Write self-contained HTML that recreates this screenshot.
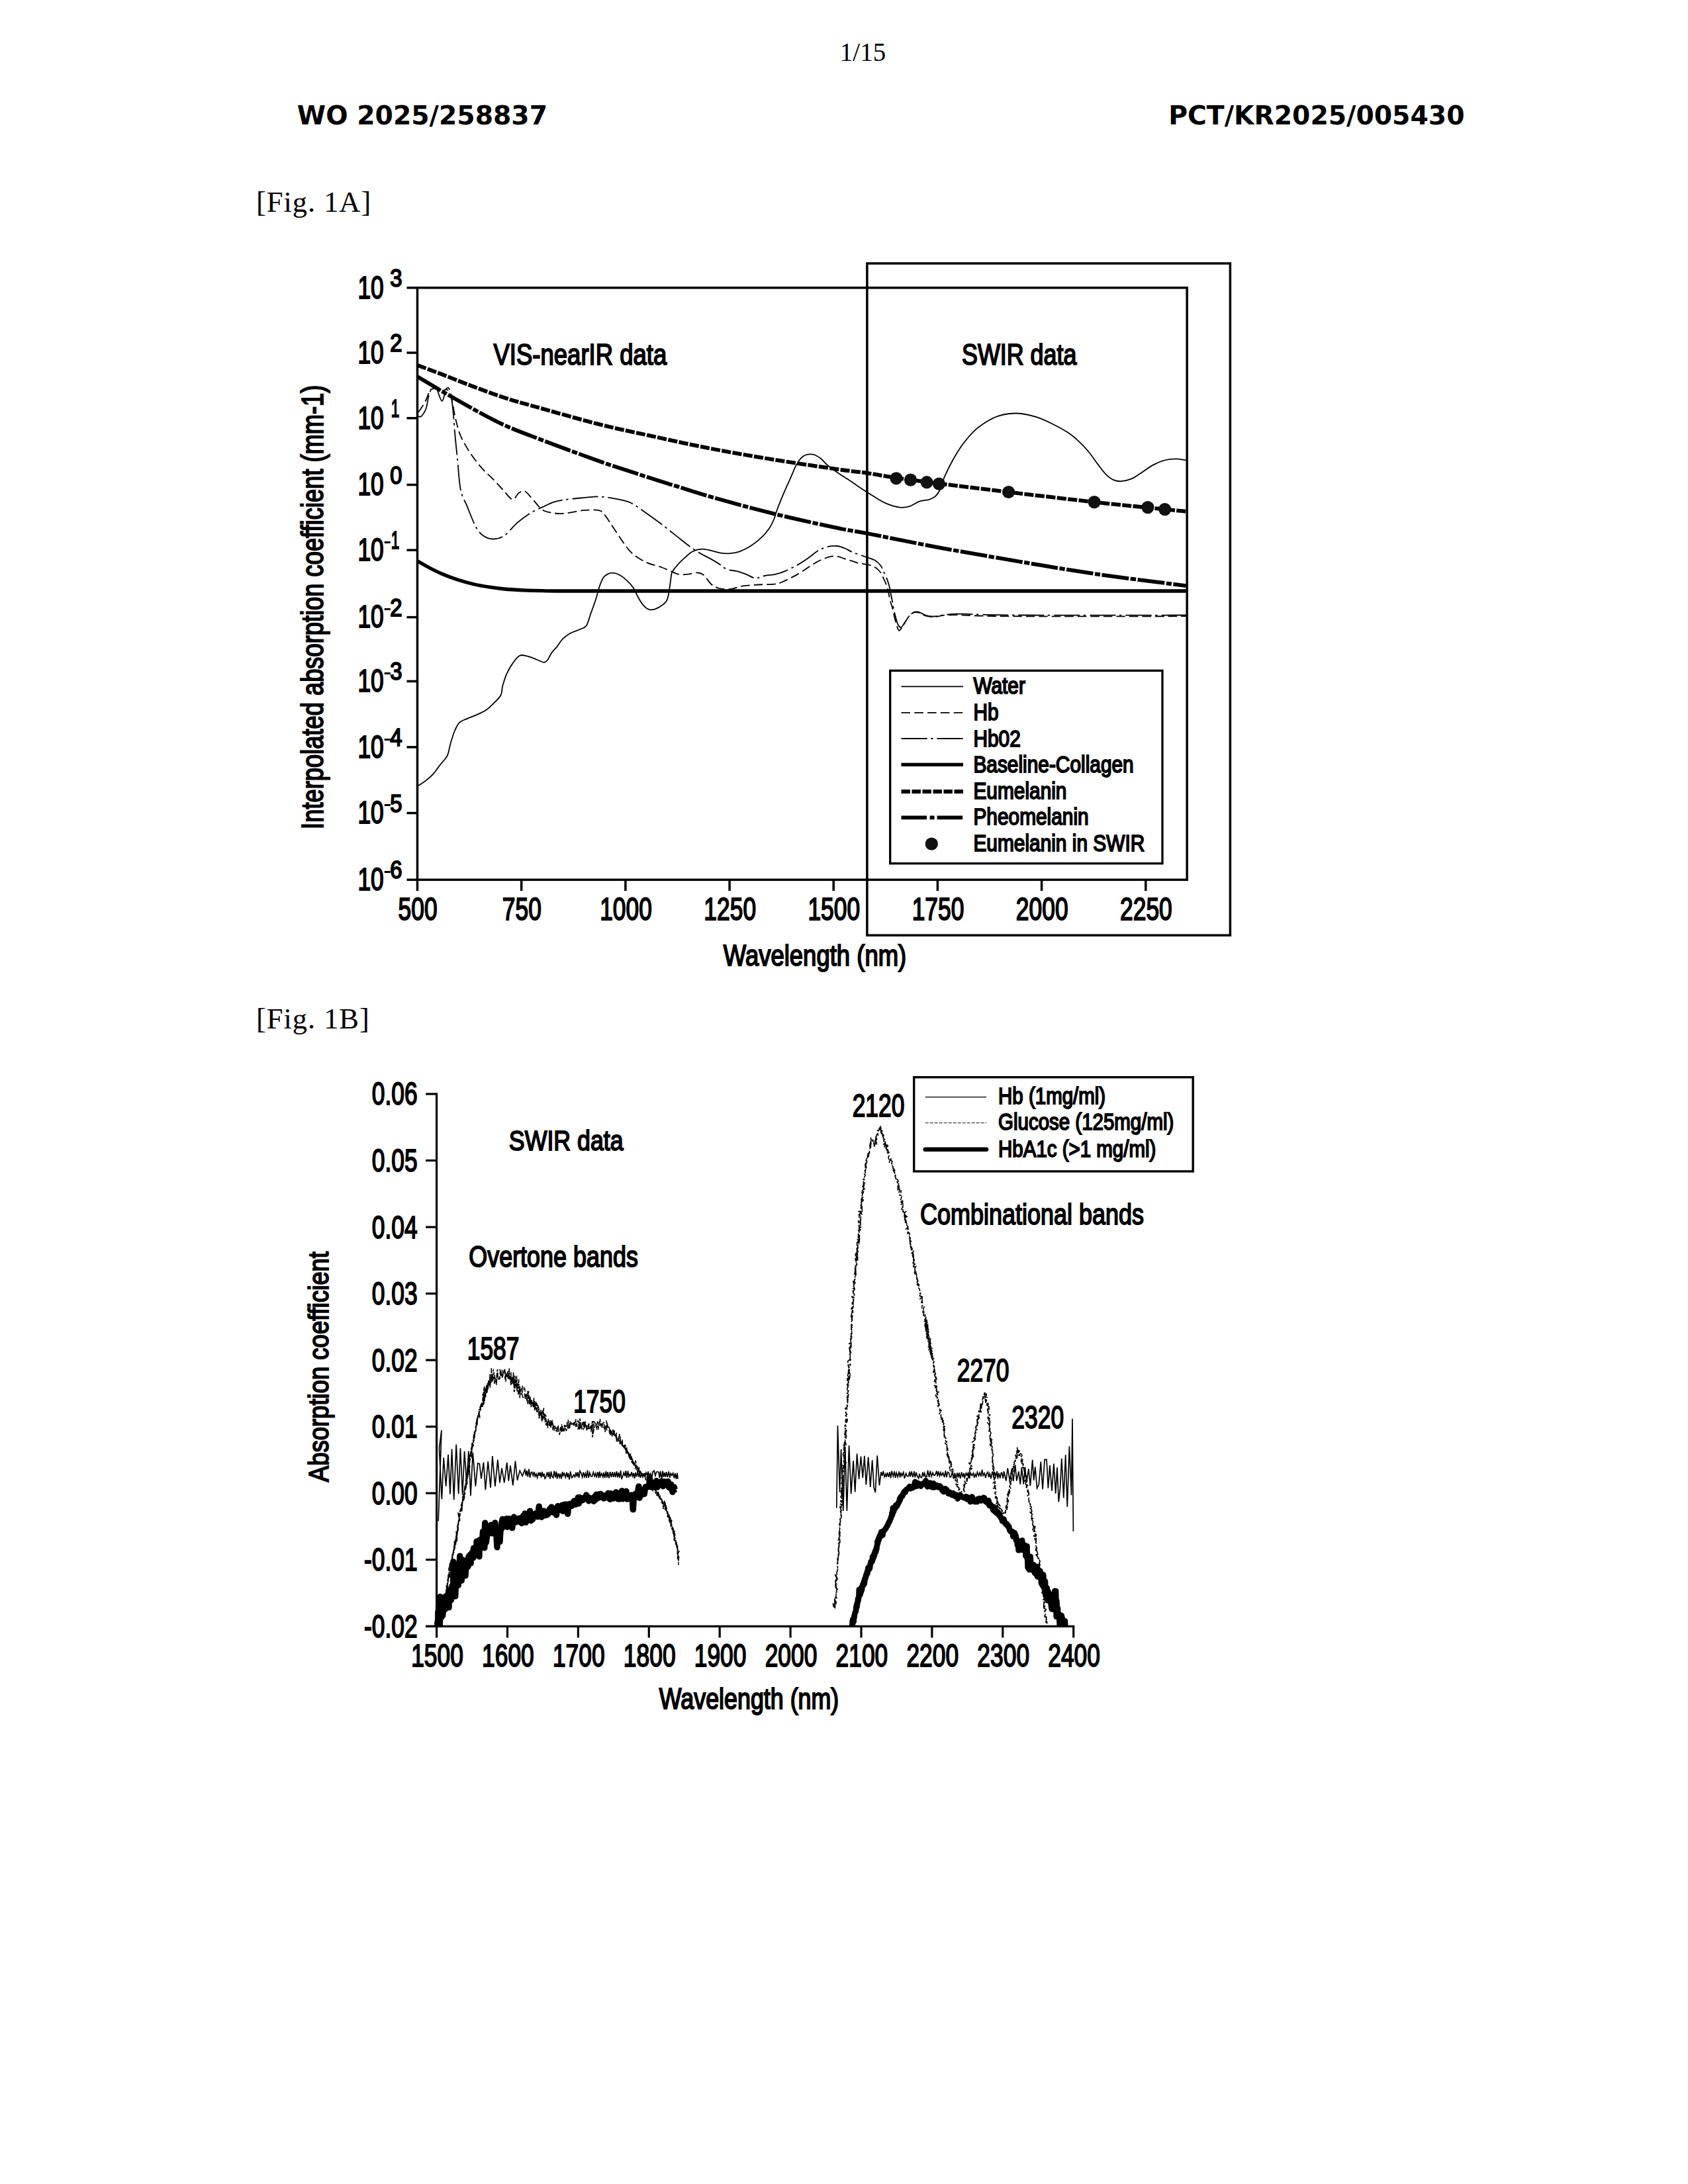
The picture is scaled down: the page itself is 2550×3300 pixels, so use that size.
<!DOCTYPE html>
<html lang="en"><head><meta charset="utf-8"><title>WO 2025/258837 - 1/15</title>
<style>
html,body{margin:0;padding:0;background:#fff}
body{width:2550px;height:3300px;overflow:hidden}
svg{display:block}
.ls{font-family:"Liberation Sans",Arial,sans-serif;fill:#000}
.se{font-family:"Liberation Serif","Times New Roman",serif;fill:#000}
.dj{font-family:"DejaVu Sans","Liberation Sans",sans-serif;font-weight:bold;fill:#000}
</style></head><body>
<svg width="2550" height="3300" viewBox="0 0 2550 3300">
<rect width="2550" height="3300" fill="#fff"/>
<text class="se" transform="translate(1303.5 92.0)" font-size="39" text-anchor="middle">1/15</text>
<text class="dj" transform="translate(448.8 187.7)" font-size="39.3" text-anchor="start">WO 2025/258837</text>
<text class="dj" transform="translate(2212.5 187.7)" font-size="39.3" text-anchor="end">PCT/KR2025/005430</text>
<text class="se" x="387" y="320.2" font-size="44.5" letter-spacing="0.95">[Fig. 1A]</text>
<text class="se" x="387" y="1554" font-size="44.5" letter-spacing="0.95">[Fig. 1B]</text>
<g id="fig1a">
<path d="M631.4 1187.6 C633.3 1186.3 639.0 1182.8 642.7 1179.9 C646.5 1177.0 650.8 1173.5 654.1 1169.9 C657.4 1166.4 659.3 1162.8 662.7 1158.6 C666.0 1154.3 671.7 1147.7 674.0 1144.4 C676.4 1141.0 675.7 1142.5 676.9 1138.7 C678.1 1134.9 679.5 1127.3 681.1 1121.6 C682.8 1115.9 684.7 1109.5 686.8 1104.5 C689.0 1099.6 690.9 1094.8 693.9 1091.8 C697.0 1088.7 701.0 1088.0 705.3 1086.1 C709.6 1084.2 714.8 1082.5 719.5 1080.4 C724.3 1078.2 729.5 1076.1 733.7 1073.3 C738.0 1070.4 741.3 1067.1 745.1 1063.3 C748.9 1059.5 754.1 1055.0 756.5 1050.5 C758.9 1046.0 757.9 1041.5 759.3 1036.3 C760.8 1031.1 762.7 1024.7 765.0 1019.2 C767.4 1013.8 770.2 1008.3 773.6 1003.6 C776.9 998.9 781.1 992.8 784.9 990.8 C788.7 988.8 792.0 990.4 796.3 991.4 C800.6 992.3 806.3 994.9 810.5 996.5 C814.8 998.1 819.1 1000.8 821.9 1000.8 C824.7 1000.8 825.7 998.9 827.6 996.5 C829.5 994.1 830.9 989.9 833.3 986.5 C835.6 983.2 839.0 980.1 841.8 976.6 C844.6 973.0 847.0 968.5 850.3 965.2 C853.6 961.9 857.4 959.1 861.7 956.7 C866.0 954.3 871.9 952.9 875.9 951.0 C880.0 949.1 883.0 949.6 885.9 945.3 C888.7 941.0 890.6 932.0 893.0 925.4 C895.4 918.8 898.0 912.1 900.1 905.5 C902.2 898.9 903.9 891.0 905.8 885.6 C907.7 880.1 909.3 875.9 911.5 872.8 C913.6 869.7 916.2 868.3 918.6 867.1 C920.9 865.9 922.8 865.5 925.7 865.7 C928.5 865.9 932.1 866.6 935.6 868.5 C939.2 870.4 943.5 873.7 947.0 877.1 C950.6 880.4 954.1 884.2 957.0 888.4 C959.8 892.7 961.5 898.2 964.1 902.7 C966.7 907.2 969.8 912.4 972.6 915.4 C975.4 918.5 977.8 920.5 981.1 921.1 C984.5 921.8 988.2 921.3 992.5 919.1 C996.8 917.0 1003.6 913.0 1006.7 908.3 C1009.8 903.7 1009.8 897.4 1011.0 891.3 C1012.2 885.1 1013.1 875.9 1013.8 871.4 C1014.6 866.8 1014.1 866.9 1015.5 864.1 C1017.0 861.3 1019.5 858.2 1022.7 854.6 C1025.8 851.0 1030.6 846.3 1034.5 842.7 C1038.5 839.2 1042.0 835.4 1046.4 833.3 C1050.7 831.1 1055.8 829.9 1060.6 829.7 C1065.3 829.5 1070.0 831.1 1074.8 832.1 C1079.5 833.1 1084.3 835.0 1089.0 835.6 C1093.7 836.3 1098.5 836.5 1103.2 836.1 C1108.0 835.7 1112.3 835.1 1117.4 833.3 C1122.6 831.4 1128.5 828.5 1134.0 825.0 C1139.6 821.4 1145.9 816.5 1150.6 811.9 C1155.4 807.4 1159.3 802.5 1162.5 797.7 C1165.6 793.0 1167.6 788.2 1169.6 783.5 C1171.5 778.8 1171.9 775.6 1174.3 769.3 C1176.7 763.0 1180.6 753.1 1183.8 745.6 C1187.0 738.1 1190.1 731.4 1193.3 724.3 C1196.4 717.2 1200.0 708.3 1202.7 702.9 C1205.5 697.6 1207.5 694.8 1209.9 692.3 C1212.2 689.7 1214.6 688.5 1217.0 687.5 C1219.3 686.5 1221.7 686.4 1224.1 686.4 C1226.4 686.4 1228.4 686.4 1231.2 687.5 C1233.9 688.7 1237.5 690.9 1240.7 693.5 C1243.8 696.0 1246.2 699.6 1250.1 702.9 C1254.1 706.3 1259.2 710.0 1264.4 713.6 C1269.5 717.2 1275.0 720.3 1280.9 724.3 C1286.9 728.2 1293.8 733.2 1299.9 737.3 C1306.0 741.4 1311.3 744.9 1317.8 748.8 C1324.2 752.7 1331.6 757.7 1338.5 760.7 C1345.4 763.6 1353.3 765.9 1359.2 766.6 C1365.2 767.4 1369.1 766.6 1374.1 765.1 C1379.0 763.6 1383.9 759.5 1388.9 757.7 C1393.8 756.0 1399.7 756.0 1403.7 754.8 C1407.6 753.5 1409.8 752.8 1412.6 750.3 C1415.3 747.9 1417.5 745.1 1420.0 740.0 C1422.4 734.8 1424.2 726.6 1427.4 719.2 C1430.6 711.8 1434.8 703.4 1439.2 695.5 C1443.7 687.6 1448.6 679.2 1454.0 671.8 C1459.5 664.4 1465.9 656.8 1471.8 651.1 C1477.7 645.4 1483.6 641.5 1489.6 637.8 C1495.5 634.1 1501.4 631.0 1507.3 628.9 C1513.3 626.8 1519.2 625.7 1525.1 625.0 C1531.0 624.4 1536.0 624.1 1542.9 625.0 C1549.8 625.9 1558.7 627.7 1566.6 630.4 C1574.5 633.0 1582.4 636.8 1590.3 640.7 C1598.2 644.7 1607.1 649.4 1614.0 654.1 C1620.9 658.7 1626.3 663.7 1631.8 668.9 C1637.2 674.0 1642.1 679.7 1646.6 685.2 C1651.0 690.6 1654.5 696.3 1658.4 701.4 C1662.4 706.6 1666.3 712.3 1670.3 716.3 C1674.2 720.2 1678.2 723.3 1682.1 725.1 C1686.1 727.0 1689.5 727.5 1694.0 727.2 C1698.4 727.0 1703.8 725.7 1708.8 723.7 C1713.7 721.6 1718.1 718.2 1723.6 714.8 C1729.0 711.3 1735.4 706.1 1741.4 702.9 C1747.3 699.7 1753.2 697.1 1759.1 695.5 C1765.0 693.9 1771.5 693.4 1776.9 693.4 C1782.3 693.4 1789.2 695.2 1791.7 695.5" fill="none" stroke="#000" stroke-width="1.8" stroke-linejoin="round" stroke-linecap="butt"/>
<path d="M631.8 622.9 C632.8 621.5 635.8 617.8 637.8 614.6 C639.8 611.5 641.7 608.1 643.7 604.0 C645.7 599.9 647.8 592.6 649.6 589.8 C651.4 587.0 652.4 587.8 654.4 587.4 C656.4 587.0 658.7 587.0 661.5 587.4 C664.3 587.8 668.4 590.1 671.0 589.8 C673.6 589.5 675.3 585.0 676.9 585.6 C678.5 586.2 679.2 589.0 680.4 593.3 C681.6 597.5 682.6 604.2 684.0 611.1 C685.4 618.0 686.7 626.9 688.7 634.8 C690.7 642.7 692.4 650.6 695.8 658.5 C699.2 666.4 703.8 674.3 708.9 682.2 C714.0 690.1 720.7 699.0 726.6 705.9 C732.5 712.8 738.9 717.9 744.4 723.6 C749.9 729.3 754.9 734.8 759.8 740.0 C764.7 745.2 770.0 753.8 774.0 754.6 C778.0 755.5 780.3 747.2 783.5 745.1 C786.7 743.0 789.5 740.7 793.0 742.3 C796.5 743.9 800.5 750.0 804.8 754.6 C809.1 759.2 814.2 766.6 819.0 770.0 C823.8 773.4 827.8 773.7 833.3 774.7 C838.8 775.7 844.3 776.5 852.2 775.9 C860.1 775.3 872.0 772.0 880.7 771.2 C889.4 770.4 898.9 770.0 904.4 771.2 C909.9 772.4 909.8 773.6 913.8 778.3 C917.8 783.0 921.8 790.5 928.1 799.6 C934.4 808.7 943.9 824.5 951.8 832.8 C959.7 841.1 967.6 845.4 975.5 849.4 C983.4 853.4 992.3 854.5 999.0 857.0 C1005.7 859.5 1010.8 862.2 1015.5 864.1 C1020.2 866.0 1023.5 867.7 1027.4 868.3 C1031.4 868.9 1034.9 868.1 1039.2 867.6 C1043.5 867.1 1049.5 865.1 1053.5 865.3 C1057.5 865.5 1059.4 865.8 1062.9 868.8 C1066.5 871.8 1070.8 879.6 1074.8 883.0 C1078.8 886.4 1081.9 887.8 1086.6 889.0 C1091.3 890.2 1097.3 890.7 1103.2 890.1 C1109.1 889.5 1115.1 886.5 1122.2 885.4 C1129.3 884.3 1138.0 884.0 1145.9 883.5 C1153.8 883.0 1163.7 883.3 1169.6 882.6 C1175.5 881.9 1175.5 882.0 1181.4 879.5 C1187.3 877.0 1197.2 872.1 1205.1 867.6 C1213.0 863.1 1222.1 856.2 1228.8 852.2 C1235.5 848.2 1239.9 845.9 1245.4 843.9 C1250.9 841.9 1256.5 840.2 1262.0 840.4 C1267.5 840.6 1273.9 843.7 1278.6 845.1 C1283.3 846.5 1286.9 847.6 1290.0 848.6 C1293.1 849.6 1293.1 850.1 1297.1 851.0 C1301.0 851.9 1309.3 852.7 1313.7 853.9 C1318.1 855.1 1320.4 856.2 1323.2 858.1 C1326.0 860.0 1328.3 862.5 1330.3 865.2 C1332.3 868.0 1333.6 871.7 1335.0 874.6 C1336.4 877.5 1337.4 879.5 1338.6 882.9 C1339.8 886.3 1341.1 890.8 1342.1 894.8 C1343.1 898.8 1343.5 902.6 1344.5 906.6 C1345.5 910.6 1346.9 914.0 1348.1 918.5 C1349.3 923.0 1350.4 929.2 1351.6 933.9 C1352.8 938.6 1354.1 943.8 1355.2 946.9 C1356.3 950.0 1357.0 952.4 1358.1 952.8 C1359.2 953.1 1360.4 951.2 1362.0 949.0 C1363.6 946.8 1365.8 942.7 1367.6 939.8 C1369.4 936.9 1371.0 933.8 1372.9 931.5 C1374.8 929.2 1376.9 927.3 1378.9 926.2 C1380.9 925.1 1382.8 924.9 1384.8 925.0 C1386.8 925.1 1388.5 925.9 1390.7 926.8 C1392.9 927.7 1394.8 929.4 1397.8 930.3 C1400.8 931.2 1405.5 931.9 1408.5 932.1 C1411.5 932.3 1412.6 931.9 1415.6 931.5 C1418.6 931.1 1421.6 930.1 1426.3 929.7 C1431.0 929.3 1438.1 929.2 1444.0 929.2 C1449.9 929.2 1454.1 929.5 1461.8 929.8 C1469.5 930.1 1475.3 930.5 1490.0 930.8 C1504.7 931.0 1523.3 931.2 1550.0 931.3 C1576.7 931.4 1609.5 931.4 1650.0 931.4 C1690.5 931.4 1769.2 931.2 1793.0 931.2" fill="none" stroke="#000" stroke-width="1.8" stroke-linejoin="round" stroke-linecap="butt" stroke-dasharray="13.5 6"/>
<path d="M631.8 628.9 C632.6 628.9 634.6 630.9 636.6 628.9 C638.6 626.9 641.9 622.0 643.7 617.0 C645.5 612.0 646.1 603.7 647.3 599.2 C648.5 594.7 649.4 592.0 650.8 589.8 C652.2 587.6 654.1 586.9 655.5 586.2 C656.9 585.5 657.1 582.3 659.1 585.6 C661.1 588.9 665.0 604.9 667.4 605.8 C669.8 606.7 671.7 593.6 673.3 590.9 C674.9 588.2 675.5 588.4 676.9 589.8 C678.3 591.2 680.3 593.7 681.6 599.2 C682.9 604.7 683.6 613.0 684.6 622.9 C685.6 632.8 686.4 646.6 687.5 658.5 C688.6 670.4 689.7 680.4 691.1 694.0 C692.5 707.6 693.4 728.3 695.8 740.0 C698.2 751.7 701.3 754.6 705.3 764.1 C709.2 773.6 715.1 789.6 719.5 797.3 C723.9 805.0 727.0 807.4 731.4 810.3 C735.8 813.2 740.5 814.7 745.6 814.5 C750.7 814.3 756.3 813.2 762.2 809.1 C768.1 805.0 774.8 795.6 781.1 790.1 C787.4 784.6 793.8 779.9 800.1 775.9 C806.4 771.9 812.7 769.3 819.0 766.4 C825.3 763.5 831.7 760.2 838.0 758.2 C844.3 756.2 849.9 755.6 857.0 754.6 C864.1 753.6 872.8 752.9 880.7 752.2 C888.6 751.5 896.5 750.1 904.4 750.3 C912.3 750.5 920.2 751.9 928.1 753.4 C936.0 754.9 943.9 755.8 951.8 759.3 C959.7 762.8 966.9 768.7 975.5 774.7 C984.1 780.7 995.1 788.8 1003.7 795.4 C1012.4 802.0 1019.5 808.2 1027.4 814.3 C1035.3 820.4 1043.2 827.0 1051.1 832.1 C1059.0 837.2 1068.9 841.8 1074.8 845.1 C1080.7 848.5 1082.6 849.6 1086.6 852.2 C1090.5 854.8 1094.2 858.7 1098.5 860.5 C1102.8 862.3 1108.0 861.7 1112.7 862.9 C1117.4 864.1 1122.2 865.8 1126.9 867.6 C1131.6 869.4 1136.3 873.2 1141.1 873.6 C1145.8 874.0 1150.3 871.0 1155.4 870.0 C1160.5 869.0 1166.8 868.8 1171.9 867.6 C1177.0 866.4 1180.7 865.3 1186.2 862.9 C1191.7 860.5 1199.2 856.8 1205.1 853.4 C1211.0 850.0 1216.6 846.2 1221.7 842.7 C1226.8 839.2 1231.2 834.9 1235.9 832.1 C1240.6 829.4 1245.3 827.4 1250.1 826.2 C1254.8 825.0 1260.1 824.6 1264.4 825.0 C1268.8 825.4 1272.2 826.9 1276.2 828.5 C1280.2 830.1 1282.8 832.3 1288.1 834.5 C1293.4 836.7 1302.1 839.5 1307.8 841.5 C1313.5 843.5 1318.2 844.6 1322.0 846.8 C1325.8 849.0 1328.1 851.6 1330.3 854.5 C1332.5 857.4 1333.4 860.6 1335.0 864.0 C1336.6 867.4 1338.4 871.1 1339.8 874.6 C1341.2 878.1 1342.3 881.5 1343.3 885.3 C1344.3 889.1 1344.9 893.2 1345.7 897.2 C1346.5 901.2 1347.3 904.9 1348.1 909.0 C1348.9 913.1 1349.4 917.5 1350.4 922.0 C1351.4 926.5 1352.9 932.5 1354.0 936.3 C1355.1 940.0 1355.7 942.5 1356.9 944.5 C1358.1 946.5 1359.8 948.2 1361.1 948.1 C1362.4 948.0 1363.3 945.7 1364.6 944.0 C1365.8 942.3 1367.0 940.2 1368.6 938.0 C1370.1 935.8 1372.0 932.6 1373.9 930.5 C1375.8 928.4 1377.9 926.2 1379.9 925.2 C1381.9 924.2 1383.8 924.3 1385.8 924.5 C1387.8 924.7 1389.5 925.4 1391.7 926.3 C1393.9 927.2 1395.8 928.9 1398.8 929.8 C1401.8 930.7 1406.5 931.4 1409.5 931.5 C1412.5 931.6 1413.6 931.1 1416.6 930.7 C1419.6 930.3 1422.6 929.5 1427.3 929.0 C1432.0 928.5 1439.1 927.8 1445.0 927.6 C1450.9 927.4 1455.3 927.6 1462.8 927.8 C1470.3 928.0 1475.5 928.5 1490.0 928.8 C1504.5 929.1 1523.3 929.4 1550.0 929.5 C1576.7 929.6 1609.5 929.7 1650.0 929.7 C1690.5 929.7 1769.2 929.5 1793.0 929.5" fill="none" stroke="#000" stroke-width="1.8" stroke-linejoin="round" stroke-linecap="butt" stroke-dasharray="39 5.5 3.5 6"/>
<path d="M630.4 847.5 C633.3 849.2 641.8 854.2 648.0 857.5 C654.2 860.8 660.4 864.0 667.4 867.0 C674.4 870.0 682.1 872.9 690.0 875.5 C697.9 878.1 706.5 880.5 714.8 882.5 C723.1 884.5 732.1 886.0 740.0 887.2 C747.9 888.5 753.9 889.2 762.2 890.0 C770.5 890.8 780.4 891.3 790.0 891.8 C799.6 892.2 808.3 892.5 820.0 892.7 C831.7 892.9 830.0 893.0 860.0 893.0 C890.0 893.0 844.7 893.0 1000.0 893.0 C1155.3 893.0 1660.0 893.0 1792.0 893.0" fill="none" stroke="#000" stroke-width="5.3" stroke-linejoin="round" stroke-linecap="butt"/>
<path d="M630.4 551.8 C636.6 554.1 653.3 560.1 667.4 565.5 C681.5 570.9 699.0 578.1 714.8 584.0 C730.6 589.9 746.4 595.9 762.2 601.0 C778.0 606.1 785.9 608.1 809.6 614.8 C833.3 621.4 876.0 633.7 904.4 640.9 C932.8 648.1 951.6 651.7 980.0 657.9 C1008.4 664.1 1043.2 671.9 1074.8 678.0 C1106.4 684.1 1138.0 689.5 1169.6 694.6 C1201.2 699.8 1241.0 705.5 1264.4 708.9 C1287.8 712.3 1295.0 712.6 1309.9 714.8 C1324.8 717.0 1335.8 719.4 1353.9 722.0 C1372.0 724.6 1390.2 727.0 1418.5 730.6 C1446.8 734.2 1484.5 738.8 1523.6 743.5 C1562.7 748.2 1613.8 754.2 1653.1 758.6 C1692.4 763.0 1736.5 767.2 1759.7 769.6 C1782.9 772.0 1786.6 772.2 1792.0 772.7" fill="none" stroke="#000" stroke-width="5.8" stroke-linejoin="round" stroke-linecap="butt" stroke-dasharray="14.2 2.3"/>
<path d="M630.4 569.0 C636.6 572.7 653.3 582.8 667.4 591.0 C681.5 599.2 699.0 609.4 714.8 618.0 C730.6 626.6 745.5 634.9 762.2 642.5 C778.9 650.1 791.3 654.5 815.0 663.5 C838.7 672.5 876.9 686.8 904.4 696.5 C931.9 706.2 960.7 715.2 980.0 721.5 C999.3 727.8 1004.2 729.1 1020.0 734.0 C1035.8 738.9 1049.9 743.9 1074.8 751.0 C1099.7 758.1 1138.0 768.6 1169.6 776.4 C1201.2 784.2 1241.0 792.8 1264.4 797.7 C1287.8 802.6 1284.2 801.1 1309.9 806.0 C1335.6 810.9 1380.7 820.3 1418.5 827.3 C1456.3 834.3 1497.5 841.3 1537.0 848.0 C1576.5 854.7 1613.0 861.1 1655.5 867.3 C1698.0 873.5 1769.2 882.1 1792.0 885.1" fill="none" stroke="#000" stroke-width="5.8" stroke-linejoin="round" stroke-linecap="butt" stroke-dasharray="40.8 2.5 8.4 2.5"/>
<circle cx="1353.9" cy="722.8" r="9.6" fill="#111"/>
<circle cx="1375.5" cy="725.1" r="9.6" fill="#111"/>
<circle cx="1400.1" cy="728.7" r="9.6" fill="#111"/>
<circle cx="1418.5" cy="731.1" r="9.6" fill="#111"/>
<circle cx="1523.6" cy="743.5" r="9.6" fill="#111"/>
<circle cx="1653.1" cy="758.6" r="9.6" fill="#111"/>
<circle cx="1733.9" cy="766.6" r="9.6" fill="#111"/>
<circle cx="1759.7" cy="769.6" r="9.6" fill="#111"/>
<rect x="630.5" y="434.8" width="1162.7" height="894.5" fill="none" stroke="#000" stroke-width="3.5"/>
<rect x="1309.9" y="398" width="548.5" height="1015.2" fill="none" stroke="#000" stroke-width="3.5"/>
<line x1="614.5" y1="434.8" x2="630.5" y2="434.8" stroke="#000" stroke-width="3.5" stroke-linecap="butt"/>
<text class="ls" transform="translate(579.8 450.5) scale(0.75 1)" font-size="47.2" text-anchor="end" stroke="#000" stroke-width="1.9">10</text>
<text class="ls" transform="translate(598.3 432.8) scale(0.9 1)" font-size="36.5" text-anchor="middle" stroke="#000" stroke-width="1.9">3</text>
<line x1="614.5" y1="533.0" x2="630.5" y2="533.0" stroke="#000" stroke-width="3.5" stroke-linecap="butt"/>
<text class="ls" transform="translate(579.8 548.7) scale(0.75 1)" font-size="47.2" text-anchor="end" stroke="#000" stroke-width="1.9">10</text>
<text class="ls" transform="translate(598.3 531.0) scale(0.9 1)" font-size="36.5" text-anchor="middle" stroke="#000" stroke-width="1.9">2</text>
<line x1="614.5" y1="631.8" x2="630.5" y2="631.8" stroke="#000" stroke-width="3.5" stroke-linecap="butt"/>
<text class="ls" transform="translate(579.8 647.5) scale(0.75 1)" font-size="47.2" text-anchor="end" stroke="#000" stroke-width="1.9">10</text>
<text class="ls" transform="translate(597.0 629.8) scale(0.62 1)" font-size="36.5" text-anchor="middle" stroke="#000" stroke-width="1.9">1</text>
<line x1="614.5" y1="732.5" x2="630.5" y2="732.5" stroke="#000" stroke-width="3.5" stroke-linecap="butt"/>
<text class="ls" transform="translate(579.8 748.2) scale(0.75 1)" font-size="47.2" text-anchor="end" stroke="#000" stroke-width="1.9">10</text>
<text class="ls" transform="translate(598.3 730.5) scale(0.9 1)" font-size="36.5" text-anchor="middle" stroke="#000" stroke-width="1.9">0</text>
<line x1="614.5" y1="831.2" x2="630.5" y2="831.2" stroke="#000" stroke-width="3.5" stroke-linecap="butt"/>
<text class="ls" transform="translate(579.8 846.9) scale(0.75 1)" font-size="47.2" text-anchor="end" stroke="#000" stroke-width="1.9">10</text>
<text class="ls" transform="translate(597.0 829.2) scale(0.62 1)" font-size="36.5" text-anchor="middle" stroke="#000" stroke-width="1.9">1</text>
<text class="ls" transform="translate(581.7 821.8) scale(2.055 1)" font-size="10.2" text-anchor="start" stroke="#000" stroke-width="1.9">-</text>
<line x1="614.5" y1="932.6" x2="630.5" y2="932.6" stroke="#000" stroke-width="3.5" stroke-linecap="butt"/>
<text class="ls" transform="translate(579.8 948.3) scale(0.75 1)" font-size="47.2" text-anchor="end" stroke="#000" stroke-width="1.9">10</text>
<text class="ls" transform="translate(598.3 930.6) scale(0.9 1)" font-size="36.5" text-anchor="middle" stroke="#000" stroke-width="1.9">2</text>
<text class="ls" transform="translate(581.7 923.1) scale(2.055 1)" font-size="10.2" text-anchor="start" stroke="#000" stroke-width="1.9">-</text>
<line x1="614.5" y1="1029.4" x2="630.5" y2="1029.4" stroke="#000" stroke-width="3.5" stroke-linecap="butt"/>
<text class="ls" transform="translate(579.8 1045.1) scale(0.75 1)" font-size="47.2" text-anchor="end" stroke="#000" stroke-width="1.9">10</text>
<text class="ls" transform="translate(598.3 1027.4) scale(0.9 1)" font-size="36.5" text-anchor="middle" stroke="#000" stroke-width="1.9">3</text>
<text class="ls" transform="translate(581.7 1020.0) scale(2.055 1)" font-size="10.2" text-anchor="start" stroke="#000" stroke-width="1.9">-</text>
<line x1="614.5" y1="1128.9" x2="630.5" y2="1128.9" stroke="#000" stroke-width="3.5" stroke-linecap="butt"/>
<text class="ls" transform="translate(579.8 1144.6) scale(0.75 1)" font-size="47.2" text-anchor="end" stroke="#000" stroke-width="1.9">10</text>
<text class="ls" transform="translate(598.3 1126.9) scale(0.9 1)" font-size="36.5" text-anchor="middle" stroke="#000" stroke-width="1.9">4</text>
<text class="ls" transform="translate(581.7 1119.5) scale(2.055 1)" font-size="10.2" text-anchor="start" stroke="#000" stroke-width="1.9">-</text>
<line x1="614.5" y1="1228.5" x2="630.5" y2="1228.5" stroke="#000" stroke-width="3.5" stroke-linecap="butt"/>
<text class="ls" transform="translate(579.8 1244.2) scale(0.75 1)" font-size="47.2" text-anchor="end" stroke="#000" stroke-width="1.9">10</text>
<text class="ls" transform="translate(598.3 1226.5) scale(0.9 1)" font-size="36.5" text-anchor="middle" stroke="#000" stroke-width="1.9">5</text>
<text class="ls" transform="translate(581.7 1219.0) scale(2.055 1)" font-size="10.2" text-anchor="start" stroke="#000" stroke-width="1.9">-</text>
<line x1="614.5" y1="1329.3" x2="630.5" y2="1329.3" stroke="#000" stroke-width="3.5" stroke-linecap="butt"/>
<text class="ls" transform="translate(579.8 1345.0) scale(0.75 1)" font-size="47.2" text-anchor="end" stroke="#000" stroke-width="1.9">10</text>
<text class="ls" transform="translate(598.3 1327.3) scale(0.9 1)" font-size="36.5" text-anchor="middle" stroke="#000" stroke-width="1.9">6</text>
<text class="ls" transform="translate(581.7 1319.8) scale(2.055 1)" font-size="10.2" text-anchor="start" stroke="#000" stroke-width="1.9">-</text>
<line x1="630.5" y1="1329.3" x2="630.5" y2="1346.0" stroke="#000" stroke-width="3.5" stroke-linecap="butt"/>
<text class="ls" transform="translate(631.1 1389.9) scale(0.75 1)" font-size="47.2" text-anchor="middle" stroke="#000" stroke-width="1.9">500</text>
<line x1="787.7" y1="1329.3" x2="787.7" y2="1346.0" stroke="#000" stroke-width="3.5" stroke-linecap="butt"/>
<text class="ls" transform="translate(788.3 1389.9) scale(0.75 1)" font-size="47.2" text-anchor="middle" stroke="#000" stroke-width="1.9">750</text>
<line x1="944.9" y1="1329.3" x2="944.9" y2="1346.0" stroke="#000" stroke-width="3.5" stroke-linecap="butt"/>
<text class="ls" transform="translate(945.5 1389.9) scale(0.75 1)" font-size="47.2" text-anchor="middle" stroke="#000" stroke-width="1.9">1000</text>
<line x1="1102.1" y1="1329.3" x2="1102.1" y2="1346.0" stroke="#000" stroke-width="3.5" stroke-linecap="butt"/>
<text class="ls" transform="translate(1102.7 1389.9) scale(0.75 1)" font-size="47.2" text-anchor="middle" stroke="#000" stroke-width="1.9">1250</text>
<line x1="1259.2" y1="1329.3" x2="1259.2" y2="1346.0" stroke="#000" stroke-width="3.5" stroke-linecap="butt"/>
<text class="ls" transform="translate(1259.8 1389.9) scale(0.75 1)" font-size="47.2" text-anchor="middle" stroke="#000" stroke-width="1.9">1500</text>
<line x1="1416.4" y1="1329.3" x2="1416.4" y2="1346.0" stroke="#000" stroke-width="3.5" stroke-linecap="butt"/>
<text class="ls" transform="translate(1417.0 1389.9) scale(0.75 1)" font-size="47.2" text-anchor="middle" stroke="#000" stroke-width="1.9">1750</text>
<line x1="1573.6" y1="1329.3" x2="1573.6" y2="1346.0" stroke="#000" stroke-width="3.5" stroke-linecap="butt"/>
<text class="ls" transform="translate(1574.2 1389.9) scale(0.75 1)" font-size="47.2" text-anchor="middle" stroke="#000" stroke-width="1.9">2000</text>
<line x1="1730.8" y1="1329.3" x2="1730.8" y2="1346.0" stroke="#000" stroke-width="3.5" stroke-linecap="butt"/>
<text class="ls" transform="translate(1731.4 1389.9) scale(0.75 1)" font-size="47.2" text-anchor="middle" stroke="#000" stroke-width="1.9">2250</text>
<text class="ls" transform="translate(1092.8 1458.9) scale(0.839 1)" font-size="43.5" text-anchor="start" stroke="#000" stroke-width="1.9">Wavelength (nm)</text>
<text class="ls" transform="translate(487.7 1252.9) rotate(-90) scale(0.798 1)" font-size="45.5" text-anchor="start" stroke="#000" stroke-width="1.9">Interpolated absorption coefficient (mm-1)</text>
<text class="ls" transform="translate(745.4 551.3) scale(0.821 1)" font-size="44.5" text-anchor="start" stroke="#000" stroke-width="1.9">VIS-nearIR data</text>
<text class="ls" transform="translate(1453.0 551.3) scale(0.819 1)" font-size="43.8" text-anchor="start" stroke="#000" stroke-width="1.9">SWIR data</text>
<rect x="1344.7" y="1013.3" width="411.3" height="291.4" fill="#fff" stroke="#000" stroke-width="3.3"/>
<path d="M1361.5 1037.3 H1455.0" fill="none" stroke="#000" stroke-width="1.8" stroke-linejoin="round" stroke-linecap="butt"/>
<path d="M1361.5 1076.8 H1455.0" fill="none" stroke="#000" stroke-width="1.8" stroke-linejoin="round" stroke-linecap="butt" stroke-dasharray="13.5 6.3"/>
<path d="M1361.5 1116.0 H1455.0" fill="none" stroke="#000" stroke-width="1.8" stroke-linejoin="round" stroke-linecap="butt" stroke-dasharray="39.2 5.5 3.3 6"/>
<path d="M1361.5 1155.4 H1455.0" fill="none" stroke="#000" stroke-width="5.3" stroke-linejoin="round" stroke-linecap="butt"/>
<path d="M1361.5 1196.0 H1455.0" fill="none" stroke="#000" stroke-width="5.8" stroke-linejoin="round" stroke-linecap="butt" stroke-dasharray="13.4 2.6"/>
<path d="M1361.5 1235.4 H1455.0" fill="none" stroke="#000" stroke-width="5.8" stroke-linejoin="round" stroke-linecap="butt" stroke-dasharray="38.6 4.5 7 4"/>
<circle cx="1407.3" cy="1275.1" r="9.6" fill="#111"/>
<text class="ls" transform="translate(1470.4 1048.2) scale(0.846 1)" font-size="35.3" text-anchor="start" stroke="#000" stroke-width="1.9">Water</text>
<text class="ls" transform="translate(1470.4 1088.2) scale(0.846 1)" font-size="35.3" text-anchor="start" stroke="#000" stroke-width="1.9">Hb</text>
<text class="ls" transform="translate(1470.4 1127.7) scale(0.846 1)" font-size="35.3" text-anchor="start" stroke="#000" stroke-width="1.9">Hb02</text>
<text class="ls" transform="translate(1470.4 1166.9) scale(0.846 1)" font-size="35.3" text-anchor="start" stroke="#000" stroke-width="1.9">Baseline-Collagen</text>
<text class="ls" transform="translate(1470.4 1206.9) scale(0.846 1)" font-size="35.3" text-anchor="start" stroke="#000" stroke-width="1.9">Eumelanin</text>
<text class="ls" transform="translate(1470.4 1246.3) scale(0.846 1)" font-size="35.3" text-anchor="start" stroke="#000" stroke-width="1.9">Pheomelanin</text>
<text class="ls" transform="translate(1470.4 1286.3) scale(0.846 1)" font-size="35.3" text-anchor="start" stroke="#000" stroke-width="1.9">Eumelanin in SWIR</text>
</g>
<g id="fig1b">
<path d="M669.6 2447.3 L670.2 2439.1 L670.2 2438.4 L670.0 2435.7 L669.6 2440.9 L670.4 2429.8 L670.8 2441.7 L670.5 2432.7 L670.7 2435.2 L670.6 2432.4 L671.6 2436.8 L670.6 2424.6 L671.3 2429.1 L671.5 2428.0 L671.9 2431.8 L672.7 2423.7 L672.1 2425.7 L672.2 2422.4 L670.7 2424.4 L672.5 2425.1 L673.9 2418.7 L671.6 2424.9 L671.5 2423.1 L672.3 2420.9 L673.4 2421.2 L673.1 2415.1 L672.5 2415.9 L672.9 2412.3 L673.9 2413.4 L673.8 2415.0 L675.3 2410.1 L674.3 2410.1 L673.9 2408.1 L674.2 2406.6 L673.6 2406.2 L673.2 2407.3 L674.2 2402.8 L674.6 2406.1 L673.2 2409.7 L674.0 2405.8 L674.3 2401.8 L674.9 2398.6 L674.6 2398.0 L675.3 2404.8 L675.2 2398.6 L676.1 2395.4 L674.0 2397.1 L676.8 2402.2 L676.7 2394.8 L675.8 2395.4 L676.4 2393.4 L676.6 2390.4 L675.7 2386.9 L676.6 2388.4 L677.2 2387.9 L677.0 2389.4 L677.8 2389.3 L677.2 2388.6 L677.3 2385.5 L676.8 2386.4 L677.3 2380.2 L677.4 2385.7 L679.3 2382.3 L678.3 2378.7 L677.5 2380.2 L678.8 2377.5 L678.4 2380.3 L676.3 2380.6 L679.3 2381.7 L677.9 2369.3 L679.7 2368.1 L678.7 2370.2 L678.4 2371.3 L680.2 2372.6 L678.7 2369.8 L679.8 2361.4 L680.4 2365.9 L680.9 2368.5 L681.2 2365.6 L680.8 2366.3 L680.4 2362.2 L682.8 2361.3 L681.0 2361.6 L683.1 2361.3 L681.5 2359.7 L683.0 2358.4 L683.2 2354.9 L681.7 2357.3 L683.0 2355.5 L683.5 2357.7 L683.7 2357.0 L683.2 2352.8 L683.8 2350.0 L683.4 2348.2 L683.0 2350.6 L685.0 2348.5 L683.9 2346.2 L685.7 2346.4 L685.3 2343.3 L684.3 2346.6 L685.1 2341.9 L685.2 2346.3 L684.9 2342.7 L686.3 2342.3 L685.7 2336.0 L687.6 2339.0 L687.2 2339.9 L686.0 2333.5 L686.9 2334.7 L686.9 2334.7 L686.1 2329.2 L688.3 2333.6 L688.5 2334.3 L688.7 2327.9 L687.8 2330.8 L689.2 2324.5 L688.4 2327.6 L689.5 2321.6 L690.4 2329.4 L689.3 2326.1 L688.2 2323.7 L689.2 2320.3 L690.1 2325.9 L690.7 2327.1 L689.0 2313.9 L689.9 2322.8 L690.4 2323.1 L690.7 2318.0 L691.2 2312.0 L689.9 2317.7 L690.5 2313.3 L691.8 2311.0 L691.4 2308.0 L691.6 2312.7 L692.3 2312.5 L691.6 2307.0 L692.1 2309.6 L691.6 2303.3 L690.9 2308.6 L691.1 2305.2 L692.3 2303.4 L692.3 2302.7 L692.1 2304.8 L693.0 2303.5 L692.2 2301.8 L693.1 2299.5 L693.2 2298.3 L692.7 2299.1 L691.6 2296.9 L694.8 2297.3 L694.0 2293.1 L691.8 2285.3 L693.7 2295.5 L694.5 2298.2 L694.2 2291.6 L695.0 2288.9 L693.9 2287.8 L695.0 2286.8 L694.9 2286.3 L695.1 2281.7 L695.2 2282.6 L695.8 2280.1 L696.6 2283.1 L695.7 2280.4 L696.0 2282.0 L696.6 2278.8 L696.6 2281.6 L697.3 2278.1 L697.8 2283.5 L698.4 2269.4 L697.5 2272.4 L696.0 2276.4 L698.0 2280.7 L698.6 2270.8 L698.3 2270.8 L698.6 2268.9 L697.0 2272.9 L699.6 2266.8 L699.1 2268.9 L698.4 2264.7 L699.1 2260.7 L699.3 2264.8 L700.7 2264.4 L700.9 2266.0 L701.9 2260.5 L701.4 2257.9 L700.0 2260.7 L700.1 2258.7 L702.3 2257.8 L702.8 2255.7 L701.5 2258.7 L702.3 2255.1 L700.8 2259.1 L700.6 2255.5 L701.4 2253.1 L702.2 2244.8 L702.3 2251.0 L702.7 2249.4 L702.6 2249.6 L703.7 2249.4 L704.5 2243.8 L703.5 2246.7 L705.3 2241.3 L703.3 2248.4 L703.6 2236.9 L704.5 2234.5 L704.0 2233.9 L705.4 2235.3 L704.1 2233.6 L705.9 2242.5 L705.1 2234.2 L707.2 2229.9 L704.9 2236.8 L705.3 2230.4 L705.7 2227.3 L704.0 2233.1 L706.4 2231.3 L706.5 2226.9 L706.4 2231.8 L705.2 2226.7 L705.4 2230.5 L707.2 2226.0 L707.9 2228.4 L708.4 2222.7 L706.5 2217.5 L706.6 2228.3 L707.4 2217.7 L706.2 2217.8 L707.4 2215.2 L708.8 2215.8 L709.5 2216.3 L708.6 2215.1 L709.9 2215.6 L709.0 2218.3 L709.0 2211.1 L708.9 2206.6 L709.3 2205.8 L709.1 2206.4 L709.4 2202.2 L709.1 2209.2 L710.0 2204.0 L710.0 2203.6 L709.0 2203.6 L710.1 2198.2 L709.8 2198.9 L709.0 2202.8 L711.2 2201.7 L712.2 2197.3 L713.0 2203.5 L712.5 2192.5 L710.7 2194.6 L712.5 2194.0 L712.7 2184.8 L710.3 2199.0 L712.8 2193.0 L712.7 2187.5 L712.5 2196.4 L712.8 2190.7 L712.8 2189.2 L714.3 2184.9 L712.8 2186.2 L713.2 2180.0 L713.5 2186.5 L713.9 2181.7 L712.5 2182.4 L715.2 2184.8 L714.5 2180.9 L715.0 2179.9 L714.9 2178.9 L714.8 2174.7 L714.8 2178.8 L715.4 2180.0 L715.6 2176.5 L716.6 2176.0 L716.2 2169.3 L716.0 2168.4 L717.9 2165.6 L715.4 2173.2 L715.6 2167.4 L717.1 2171.7 L716.9 2163.8 L715.8 2163.9 L717.2 2164.6 L717.1 2166.3 L718.7 2162.5 L717.5 2162.0 L719.1 2160.4 L718.8 2160.0 L718.4 2154.9 L718.8 2157.7 L719.3 2155.9 L717.4 2155.3 L719.7 2156.1 L719.3 2151.3 L721.2 2152.3 L719.4 2150.6 L721.1 2151.9 L718.4 2152.1 L721.2 2145.6 L721.0 2149.5 L720.8 2153.3 L721.1 2141.0 L721.1 2142.0 L721.9 2140.9 L721.6 2141.8 L720.5 2146.9 L722.0 2140.8 L724.1 2137.6 L722.6 2140.8 L723.0 2135.9 L722.6 2140.4 L723.3 2136.9 L723.7 2139.4 L723.6 2131.9 L724.9 2142.7 L723.7 2134.7 L724.7 2133.3 L725.5 2130.0 L725.2 2126.9 L724.8 2125.5 L726.5 2126.9 L725.6 2123.9 L726.4 2126.4 L726.4 2121.9 L727.3 2125.6 L727.4 2125.7 L727.6 2119.4 L728.9 2124.6 L730.1 2119.0 L728.7 2125.8 L729.7 2120.5 L729.3 2123.7 L730.0 2110.0 L731.2 2114.4 L730.6 2122.8 L730.2 2109.4 L730.6 2100.0 L731.0 2099.6 L731.8 2095.3 L732.8 2096.7 L731.4 2105.9 L732.0 2115.1 L732.4 2103.9 L732.0 2107.5 L734.8 2104.0 L734.0 2103.7 L735.9 2101.7 L733.5 2100.7 L736.0 2103.6 L734.7 2092.8 L735.3 2105.0 L735.2 2103.5 L735.5 2095.9 L735.5 2100.9 L737.1 2090.9 L736.2 2091.0 L737.3 2094.2 L737.9 2091.2 L738.9 2088.7 L738.9 2086.5 L739.5 2086.3 L740.1 2094.4 L740.1 2076.2 L740.9 2089.0 L740.2 2084.6 L740.8 2089.5 L743.4 2087.3 L742.3 2066.7 L742.2 2086.0 L744.3 2083.5 L743.6 2080.8 L744.2 2077.7 L744.5 2085.5 L747.3 2077.7 L746.8 2091.1 L748.2 2083.3 L750.1 2092.5 L750.8 2074.8 L751.5 2068.9 L752.4 2083.5 L754.5 2084.0 L756.3 2078.8 L755.0 2069.0 L756.8 2075.3 L758.9 2081.3 L759.1 2076.2 L758.7 2076.3 L759.8 2075.6 L760.7 2070.8 L761.3 2073.3 L762.5 2068.2 L764.2 2087.7 L764.5 2074.6 L766.6 2080.6 L766.9 2071.9 L767.5 2083.1 L769.4 2067.5 L769.9 2084.5 L770.7 2079.3 L771.8 2093.0 L772.0 2073.4 L771.9 2082.5 L773.3 2085.1 L773.3 2091.2 L775.9 2082.1 L775.0 2086.0 L775.5 2073.5 L776.1 2082.2 L775.7 2090.8 L777.2 2095.5 L776.7 2088.1 L776.5 2103.0 L777.2 2102.1 L778.6 2092.0 L777.5 2078.7 L779.4 2083.4 L779.4 2090.1 L781.3 2102.1 L780.9 2097.9 L783.7 2084.2 L783.6 2096.0 L782.7 2107.8 L785.8 2096.5 L785.0 2094.9 L785.3 2112.4 L785.9 2101.1 L787.9 2098.5 L789.4 2104.2 L788.4 2102.9 L788.8 2100.9 L789.5 2111.3 L792.3 2111.5 L793.2 2110.5 L792.3 2105.5 L793.8 2113.7 L794.1 2107.1 L794.7 2111.0 L796.2 2115.2 L796.4 2114.6 L797.0 2121.2 L797.1 2114.0 L798.7 2101.9 L798.4 2105.8 L799.3 2121.6 L800.1 2112.3 L799.6 2117.4 L801.0 2110.7 L801.7 2122.6 L802.6 2115.0 L802.3 2126.8 L802.9 2115.6 L805.8 2126.3 L806.1 2124.4 L806.5 2116.8 L807.9 2128.5 L807.4 2117.2 L807.7 2118.5 L808.8 2128.5 L807.6 2121.2 L808.8 2122.1 L811.0 2124.4 L811.0 2121.2 L810.6 2134.2 L812.8 2132.4 L813.7 2129.1 L814.0 2129.7 L814.1 2133.8 L814.1 2142.5 L815.4 2137.9 L816.3 2130.4 L816.3 2138.9 L817.6 2134.4 L818.0 2134.7 L818.6 2147.9 L817.4 2134.9 L820.5 2135.4 L821.6 2127.3 L820.5 2131.4 L820.2 2143.3 L822.6 2137.2 L822.3 2145.3 L822.5 2136.3 L824.8 2139.2 L823.4 2148.6 L825.7 2154.1 L824.7 2149.7 L827.5 2154.2 L827.4 2158.0 L827.4 2154.7 L828.4 2143.7 L829.4 2149.4 L830.2 2154.6 L830.9 2149.7 L831.3 2154.3 L831.1 2146.1 L832.7 2150.2 L831.7 2156.9 L834.3 2145.5 L834.8 2151.2 L835.9 2156.8 L834.9 2150.0 L836.5 2158.2 L838.0 2154.7 L838.5 2157.3 L838.8 2157.7 L840.4 2160.0 L841.2 2156.9 L842.9 2160.1 L842.5 2157.3 L844.2 2162.7 L845.2 2168.0 L846.5 2161.7 L846.8 2161.9 L847.8 2155.8 L848.4 2163.4 L849.3 2156.3 L850.0 2155.5 L850.5 2160.8 L853.8 2158.5 L851.6 2162.0 L852.1 2162.8 L853.2 2153.4 L854.0 2155.7 L855.3 2162.2 L857.2 2158.1 L858.2 2156.3 L857.8 2158.3 L856.4 2149.2 L859.4 2154.1 L859.1 2157.5 L860.7 2158.6 L861.2 2148.0 L863.4 2150.6 L863.6 2153.5 L865.7 2150.6 L866.5 2150.3 L866.9 2155.1 L868.1 2150.7 L869.8 2144.5 L869.8 2154.1 L871.8 2150.7 L872.0 2149.5 L873.2 2145.9 L874.7 2157.4 L876.1 2143.3 L876.4 2145.7 L877.0 2152.1 L878.6 2158.8 L877.7 2159.3 L881.3 2148.6 L879.9 2153.1 L882.7 2147.3 L882.5 2158.6 L884.3 2147.8 L884.8 2153.8 L886.2 2159.1 L886.3 2153.7 L886.2 2161.3 L889.2 2151.1 L889.4 2156.7 L890.3 2159.0 L891.3 2154.7 L894.4 2161.2 L893.3 2157.2 L895.0 2147.3 L894.8 2171.7 L897.9 2156.8 L897.2 2154.2 L896.5 2147.3 L901.7 2153.5 L899.6 2150.9 L902.5 2155.5 L903.0 2154.0 L903.9 2160.3 L904.2 2152.5 L905.5 2153.8 L907.3 2152.9 L907.0 2150.9 L908.3 2151.2 L909.7 2157.4 L909.9 2156.4 L910.4 2150.7 L912.7 2149.1 L912.7 2154.1 L913.2 2160.0 L913.6 2155.3 L914.3 2163.6 L916.7 2153.0 L917.6 2157.5 L916.0 2146.3 L918.1 2155.2 L920.0 2157.2 L921.9 2161.5 L922.4 2167.5 L922.1 2160.8 L923.2 2167.8 L922.4 2165.0 L924.1 2167.1 L923.2 2161.5 L924.5 2170.3 L925.9 2160.2 L928.1 2167.8 L927.6 2162.1 L928.0 2164.8 L928.3 2161.3 L928.1 2166.2 L930.4 2170.7 L930.3 2169.6 L931.4 2164.8 L931.1 2177.9 L932.5 2173.7 L931.8 2177.5 L934.1 2177.3 L935.4 2171.7 L935.7 2166.8 L937.2 2172.1 L936.4 2182.3 L937.2 2174.6 L937.8 2180.9 L937.3 2177.4 L940.4 2181.2 L940.1 2175.4 L939.7 2185.1 L939.8 2182.3 L941.6 2185.8 L942.5 2184.5 L942.5 2187.2 L943.0 2185.3 L943.2 2188.7 L943.8 2182.9 L945.4 2185.0 L946.0 2191.3 L944.1 2189.9 L945.9 2190.2 L945.4 2191.2 L945.8 2194.1 L947.8 2191.7 L947.1 2195.9 L945.8 2192.5 L949.3 2194.8 L950.3 2199.9 L951.4 2201.0 L950.0 2195.4 L951.9 2202.1 L949.2 2197.3 L951.0 2203.5 L952.7 2196.4 L953.2 2199.7 L954.3 2202.4 L954.5 2204.2 L954.2 2209.9 L956.0 2209.2 L955.9 2212.1 L957.2 2211.8 L955.7 2208.2 L957.1 2209.1 L957.0 2214.0 L958.5 2211.7 L958.2 2212.0 L958.7 2209.3 L958.4 2213.9 L960.2 2206.7 L961.3 2214.5 L961.8 2213.8 L959.1 2219.7 L960.7 2217.0 L964.1 2218.3 L962.9 2224.2 L963.7 2217.7 L965.4 2222.5 L965.4 2216.6 L965.4 2223.2 L966.4 2224.9 L968.8 2227.0 L966.9 2222.4 L969.8 2226.8 L969.4 2227.3 L970.3 2226.7 L972.8 2227.7 L971.7 2229.1 L973.8 2229.4 L973.7 2225.7 L973.7 2225.6 L975.6 2237.2 L977.5 2235.9 L977.3 2226.5 L978.8 2232.5 L979.4 2233.5 L980.2 2234.3 L980.5 2233.2 L981.3 2230.9 L980.0 2234.0 L981.7 2234.0 L981.0 2236.8 L983.0 2236.5 L983.5 2237.8 L983.0 2242.2 L984.7 2243.7 L984.8 2237.4 L985.1 2240.5 L985.0 2240.4 L986.0 2247.4 L986.9 2244.5 L985.9 2249.9 L986.2 2245.0 L988.2 2247.5 L985.8 2244.2 L986.0 2253.1 L987.0 2249.0 L989.0 2246.6 L989.4 2250.2 L990.2 2245.9 L990.4 2253.5 L992.2 2254.8 L992.8 2256.1 L993.1 2260.5 L991.8 2255.9 L993.6 2260.0 L993.3 2259.4 L994.2 2258.6 L994.3 2253.8 L995.8 2263.7 L996.8 2260.1 L997.0 2262.5 L996.6 2259.4 L996.9 2264.9 L998.1 2265.2 L998.5 2265.9 L1000.2 2266.3 L999.8 2270.7 L1000.3 2271.4 L1000.8 2271.5 L1002.2 2280.2 L1003.1 2269.3 L1002.6 2270.9 L1002.5 2269.9 L1004.3 2275.1 L1003.9 2272.7 L1003.7 2267.5 L1005.3 2272.9 L1005.1 2277.6 L1004.2 2281.3 L1006.3 2274.5 L1006.5 2278.2 L1005.2 2280.6 L1005.4 2279.7 L1007.6 2284.4 L1008.4 2283.8 L1008.6 2285.7 L1007.4 2283.5 L1008.5 2291.2 L1009.6 2287.5 L1008.2 2292.4 L1009.8 2288.1 L1010.2 2292.2 L1011.1 2289.3 L1008.7 2289.4 L1011.1 2291.1 L1012.9 2294.0 L1011.1 2294.5 L1011.7 2300.7 L1013.0 2293.6 L1012.0 2294.7 L1013.8 2304.0 L1013.6 2301.7 L1012.2 2295.2 L1013.8 2303.3 L1012.9 2303.5 L1015.1 2297.3 L1013.2 2303.6 L1013.4 2305.6 L1014.2 2308.8 L1014.8 2310.4 L1016.7 2308.8 L1015.9 2312.6 L1016.5 2310.0 L1017.4 2308.8 L1016.2 2309.6 L1016.6 2315.0 L1016.7 2308.4 L1018.2 2317.3 L1019.2 2312.9 L1018.4 2316.1 L1017.9 2319.7 L1018.3 2322.8 L1018.1 2314.2 L1019.8 2318.6 L1018.6 2322.2 L1019.4 2321.2 L1018.9 2326.6 L1018.6 2318.7 L1018.2 2327.0 L1019.8 2328.2 L1020.9 2328.0 L1020.7 2332.2 L1020.9 2326.2 L1020.5 2334.1 L1020.8 2329.7 L1020.9 2334.9 L1022.1 2332.8 L1023.8 2337.2 L1022.3 2338.0 L1021.5 2332.3 L1023.8 2337.2 L1022.2 2338.4 L1023.7 2338.9 L1023.1 2338.3 L1023.7 2347.1 L1026.4 2343.2 L1023.2 2348.2 L1023.4 2342.9 L1024.2 2342.4 L1024.0 2347.0 L1023.8 2345.9 L1023.6 2355.7 L1024.7 2350.3 L1025.2 2354.0 L1023.7 2350.9 L1023.6 2351.6 L1026.1 2353.4 L1023.5 2355.6 L1025.3 2358.1 L1025.2 2356.2 L1024.1 2355.5 L1025.6 2355.3" fill="none" stroke="#000" stroke-width="1.6" stroke-linejoin="bevel" stroke-linecap="butt" stroke-dasharray="7 1.6"/>
<path d="M1261.0 2428.4 L1259.5 2428.3 L1258.1 2421.8 L1262.1 2430.5 L1260.7 2420.4 L1263.2 2421.8 L1262.7 2424.2 L1263.3 2418.6 L1262.9 2418.0 L1261.5 2417.3 L1262.5 2420.0 L1260.5 2423.4 L1260.9 2416.4 L1262.8 2412.3 L1264.3 2415.5 L1262.7 2411.5 L1261.2 2411.9 L1262.5 2413.9 L1263.3 2407.8 L1263.8 2408.7 L1262.9 2405.3 L1264.7 2406.0 L1264.0 2406.0 L1263.4 2401.7 L1262.6 2402.3 L1265.7 2401.4 L1262.6 2399.3 L1262.8 2396.8 L1262.2 2395.1 L1263.6 2397.3 L1261.4 2395.9 L1264.0 2401.3 L1261.7 2388.0 L1264.3 2393.6 L1262.0 2393.1 L1262.2 2394.6 L1262.9 2391.3 L1264.0 2386.7 L1263.6 2387.8 L1262.8 2388.1 L1263.7 2384.8 L1264.6 2386.5 L1262.1 2378.5 L1265.5 2386.8 L1264.2 2385.0 L1261.3 2379.2 L1264.5 2380.6 L1264.2 2378.0 L1263.9 2374.6 L1264.1 2375.9 L1264.1 2377.2 L1265.5 2372.5 L1264.9 2371.4 L1265.5 2371.1 L1264.6 2371.3 L1266.3 2372.4 L1264.8 2366.4 L1265.7 2368.2 L1264.9 2366.4 L1265.0 2359.9 L1266.2 2362.5 L1266.2 2362.2 L1265.4 2361.3 L1265.6 2361.2 L1265.1 2353.9 L1266.3 2358.2 L1266.0 2355.3 L1266.6 2352.2 L1266.0 2356.2 L1265.8 2355.6 L1266.8 2350.9 L1265.8 2353.7 L1266.8 2349.4 L1267.2 2349.5 L1267.7 2345.4 L1266.4 2351.3 L1266.6 2339.1 L1267.3 2344.7 L1266.6 2345.6 L1267.1 2337.5 L1266.7 2341.2 L1266.6 2340.3 L1265.9 2341.6 L1266.9 2341.6 L1267.5 2336.2 L1267.2 2332.6 L1266.7 2338.6 L1267.3 2337.1 L1268.7 2331.7 L1267.2 2332.7 L1266.5 2331.7 L1269.1 2331.0 L1266.8 2329.0 L1269.1 2331.0 L1268.1 2321.8 L1266.1 2327.9 L1267.5 2325.1 L1267.5 2322.4 L1267.5 2324.9 L1267.6 2314.7 L1268.7 2322.7 L1268.4 2319.6 L1269.6 2314.5 L1267.9 2317.5 L1268.2 2314.5 L1269.1 2320.9 L1268.3 2317.9 L1268.0 2313.1 L1268.9 2309.0 L1267.5 2308.3 L1267.5 2307.9 L1268.2 2306.2 L1269.4 2304.2 L1269.8 2303.9 L1267.9 2303.6 L1268.4 2301.9 L1269.5 2300.3 L1269.4 2298.6 L1268.3 2306.6 L1270.2 2295.0 L1269.0 2295.1 L1269.3 2297.8 L1268.8 2294.7 L1270.7 2295.5 L1270.8 2295.4 L1269.4 2295.5 L1271.1 2293.1 L1270.9 2287.5 L1270.6 2291.8 L1269.9 2283.3 L1270.9 2286.5 L1269.4 2284.4 L1269.6 2281.8 L1269.9 2285.0 L1270.9 2281.9 L1271.7 2283.9 L1268.4 2276.3 L1270.3 2281.3 L1269.7 2279.3 L1271.1 2277.2 L1269.2 2272.1 L1272.6 2274.0 L1270.2 2269.6 L1272.4 2267.1 L1269.6 2279.9 L1271.5 2272.8 L1272.8 2273.8 L1272.5 2267.0 L1269.9 2268.8 L1270.0 2267.7 L1269.6 2266.4 L1271.9 2263.7 L1269.8 2262.0 L1273.5 2256.1 L1272.4 2262.0 L1273.2 2260.4 L1271.2 2261.1 L1271.6 2256.4 L1271.9 2260.5 L1270.4 2253.7 L1270.5 2250.5 L1272.2 2255.2 L1271.7 2250.4 L1272.1 2247.3 L1270.9 2249.7 L1272.9 2250.3 L1273.8 2247.9 L1272.8 2247.4 L1272.0 2255.7 L1273.4 2246.1 L1273.5 2246.8 L1273.0 2236.6 L1271.8 2241.6 L1270.7 2241.6 L1274.9 2237.5 L1273.5 2235.1 L1272.6 2237.3 L1272.3 2234.3 L1270.6 2232.5 L1274.4 2235.9 L1273.2 2235.3 L1273.7 2231.5 L1273.3 2228.5 L1273.4 2229.9 L1274.1 2229.6 L1272.2 2228.0 L1273.0 2221.5 L1274.3 2223.3 L1275.1 2224.0 L1274.3 2223.6 L1274.5 2223.4 L1273.1 2221.8 L1273.4 2215.7 L1274.5 2215.7 L1274.4 2213.3 L1274.1 2220.1 L1274.4 2214.8 L1272.7 2214.6 L1272.8 2214.8 L1275.3 2210.1 L1274.7 2206.9 L1273.8 2207.7 L1275.1 2207.3 L1278.7 2210.5 L1274.2 2207.8 L1275.4 2201.6 L1275.0 2205.0 L1274.5 2204.1 L1274.3 2198.4 L1276.4 2199.7 L1274.7 2194.1 L1273.4 2198.7 L1277.3 2195.9 L1274.8 2192.1 L1276.4 2192.7 L1275.9 2194.0 L1275.3 2190.9 L1277.6 2192.0 L1274.8 2191.6 L1276.2 2186.8 L1276.4 2187.1 L1274.4 2192.4 L1275.1 2186.1 L1277.0 2182.4 L1278.4 2183.7 L1277.0 2179.0 L1273.7 2184.3 L1277.6 2181.2 L1274.6 2182.0 L1275.5 2180.4 L1276.5 2178.0 L1276.8 2178.4 L1276.5 2175.3 L1276.4 2171.9 L1279.4 2169.9 L1275.2 2170.3 L1277.2 2163.8 L1278.1 2174.0 L1277.8 2163.7 L1275.3 2166.9 L1278.7 2162.5 L1278.7 2159.6 L1276.4 2163.6 L1276.6 2161.9 L1278.9 2161.2 L1277.7 2161.9 L1276.4 2157.8 L1278.1 2159.3 L1276.7 2158.5 L1276.6 2155.2 L1275.4 2154.3 L1278.3 2155.3 L1277.0 2152.9 L1276.9 2152.1 L1277.5 2144.4 L1279.0 2149.6 L1278.0 2149.4 L1279.2 2146.9 L1278.1 2147.1 L1279.6 2150.1 L1280.3 2144.2 L1278.5 2144.6 L1278.5 2139.6 L1276.8 2138.5 L1278.1 2138.4 L1280.6 2135.9 L1279.6 2137.4 L1277.0 2133.9 L1277.8 2134.8 L1278.3 2130.4 L1279.1 2128.7 L1279.2 2130.2 L1279.1 2128.1 L1279.7 2128.0 L1279.3 2127.0 L1278.7 2126.6 L1279.7 2129.2 L1276.5 2128.9 L1278.5 2126.1 L1279.4 2122.2 L1280.3 2125.9 L1280.4 2117.0 L1281.2 2114.6 L1281.1 2119.4 L1280.1 2117.6 L1280.1 2116.2 L1280.6 2115.5 L1279.5 2110.1 L1279.7 2110.2 L1280.5 2115.4 L1279.1 2113.7 L1280.6 2108.1 L1280.7 2113.9 L1282.1 2105.0 L1279.2 2105.2 L1279.9 2106.3 L1282.0 2101.4 L1280.1 2102.1 L1281.1 2101.8 L1280.1 2100.1 L1282.3 2102.3 L1279.5 2100.5 L1280.4 2095.0 L1280.2 2095.0 L1282.5 2096.2 L1281.3 2094.4 L1279.3 2091.4 L1283.2 2093.5 L1279.7 2093.4 L1281.7 2088.6 L1282.5 2091.1 L1281.0 2083.8 L1280.8 2082.7 L1280.2 2087.1 L1280.0 2082.5 L1284.6 2081.0 L1283.1 2081.8 L1283.3 2079.6 L1280.1 2081.2 L1281.5 2075.4 L1280.6 2077.1 L1283.0 2085.2 L1284.3 2076.2 L1281.6 2069.8 L1281.6 2075.3 L1284.0 2074.1 L1281.2 2075.1 L1283.3 2070.8 L1282.1 2067.6 L1283.5 2071.9 L1282.2 2069.0 L1281.1 2061.4 L1283.1 2066.9 L1281.3 2063.2 L1283.5 2065.6 L1285.2 2060.7 L1284.6 2062.6 L1281.7 2059.9 L1281.5 2059.9 L1280.5 2057.2 L1282.3 2055.1 L1281.8 2055.2 L1282.4 2055.6 L1285.8 2053.9 L1284.1 2056.0 L1283.9 2051.8 L1283.0 2051.2 L1284.0 2053.9 L1284.5 2047.5 L1284.2 2047.7 L1285.0 2043.6 L1285.2 2044.2 L1283.4 2047.2 L1283.1 2042.7 L1285.8 2044.5 L1282.8 2036.9 L1284.8 2034.9 L1284.8 2038.3 L1286.4 2032.8 L1283.8 2042.2 L1283.1 2037.4 L1286.4 2029.8 L1283.8 2031.6 L1282.3 2029.4 L1283.5 2030.9 L1285.0 2028.5 L1286.4 2030.0 L1285.7 2030.3 L1285.1 2024.8 L1284.4 2021.3 L1285.4 2024.7 L1286.1 2021.7 L1284.6 2024.0 L1285.8 2019.5 L1287.5 2021.0 L1285.4 2018.6 L1285.4 2016.1 L1285.5 2014.3 L1286.1 2016.3 L1285.2 2019.9 L1286.9 2014.4 L1286.5 2010.8 L1286.9 2011.9 L1285.7 2009.2 L1287.1 2004.5 L1288.1 2007.5 L1286.1 2009.7 L1286.1 2003.7 L1286.4 2000.5 L1285.8 2003.6 L1286.3 2006.0 L1287.9 2002.6 L1287.0 2001.7 L1286.4 2003.9 L1286.4 2001.1 L1285.9 1997.6 L1287.9 1994.1 L1286.1 1993.9 L1287.1 1992.2 L1287.3 1993.6 L1285.4 1988.0 L1287.0 1993.2 L1287.9 1988.4 L1285.0 1985.9 L1286.1 1988.0 L1287.6 1979.4 L1287.3 1981.5 L1288.1 1980.9 L1289.0 1983.6 L1287.8 1979.1 L1288.3 1983.0 L1288.3 1977.0 L1285.7 1978.4 L1287.6 1974.1 L1288.0 1977.9 L1289.3 1973.1 L1287.8 1974.0 L1289.0 1970.3 L1289.1 1967.7 L1287.1 1968.8 L1286.7 1971.2 L1289.9 1964.6 L1287.9 1962.1 L1290.0 1964.2 L1289.0 1965.9 L1289.8 1960.1 L1286.9 1960.3 L1291.5 1961.1 L1286.1 1958.7 L1287.8 1959.2 L1289.7 1960.4 L1290.7 1956.3 L1290.2 1955.0 L1290.5 1956.0 L1288.4 1952.8 L1290.1 1949.4 L1291.3 1948.1 L1288.1 1946.7 L1288.7 1953.5 L1290.2 1947.3 L1291.6 1947.9 L1290.9 1947.1 L1289.0 1941.7 L1289.7 1944.7 L1290.0 1940.5 L1288.7 1935.4 L1292.7 1939.2 L1290.0 1935.9 L1290.0 1936.7 L1288.8 1937.4 L1291.0 1941.3 L1290.8 1933.0 L1292.3 1932.8 L1291.9 1933.0 L1290.9 1931.5 L1291.8 1929.3 L1293.4 1925.1 L1290.6 1924.4 L1291.1 1926.0 L1292.4 1921.6 L1291.1 1922.2 L1292.3 1919.1 L1290.7 1926.0 L1292.9 1916.0 L1292.9 1926.5 L1291.6 1917.0 L1291.0 1914.3 L1292.8 1912.7 L1292.6 1918.3 L1291.2 1918.1 L1293.9 1910.6 L1292.1 1913.5 L1294.7 1910.8 L1294.6 1909.4 L1293.5 1909.6 L1294.2 1910.6 L1291.9 1900.4 L1293.6 1898.2 L1294.3 1905.4 L1292.4 1903.4 L1292.3 1904.9 L1295.8 1895.6 L1294.6 1897.0 L1295.8 1904.5 L1295.4 1893.7 L1291.3 1898.3 L1293.3 1893.3 L1294.5 1893.5 L1294.8 1889.1 L1295.0 1896.7 L1294.2 1885.1 L1295.0 1886.4 L1294.1 1886.3 L1296.7 1892.3 L1294.4 1888.2 L1294.9 1888.4 L1296.6 1885.0 L1295.1 1884.7 L1296.1 1884.5 L1295.0 1887.0 L1296.0 1881.5 L1296.6 1874.5 L1294.6 1882.3 L1294.6 1877.7 L1295.2 1872.5 L1297.5 1874.6 L1297.3 1870.7 L1297.7 1880.1 L1298.6 1870.7 L1296.6 1864.0 L1296.3 1870.7 L1297.1 1865.8 L1297.6 1871.9 L1298.6 1866.9 L1297.7 1859.3 L1298.2 1862.5 L1297.1 1859.4 L1296.1 1859.4 L1300.0 1858.7 L1298.2 1853.0 L1297.7 1859.4 L1298.4 1854.7 L1300.8 1853.5 L1297.9 1858.0 L1298.0 1860.8 L1297.8 1851.1 L1298.3 1858.3 L1296.6 1844.1 L1300.3 1851.9 L1299.0 1846.9 L1298.1 1847.5 L1300.4 1843.3 L1298.9 1843.6 L1301.0 1843.4 L1299.3 1842.2 L1299.6 1843.7 L1300.0 1849.1 L1300.4 1837.9 L1299.2 1838.5 L1299.3 1832.0 L1300.3 1828.2 L1298.1 1840.5 L1297.1 1830.1 L1300.3 1831.0 L1300.7 1832.5 L1301.9 1834.4 L1300.6 1831.3 L1302.1 1835.5 L1302.4 1827.4 L1301.1 1820.7 L1300.4 1826.3 L1300.2 1825.2 L1301.1 1820.9 L1299.8 1821.4 L1301.8 1819.5 L1302.5 1826.3 L1301.0 1817.2 L1302.9 1813.5 L1300.9 1818.0 L1302.1 1809.8 L1302.3 1816.4 L1300.1 1815.2 L1302.0 1809.8 L1303.4 1809.7 L1303.8 1808.5 L1304.0 1814.9 L1301.9 1809.7 L1303.0 1803.1 L1301.1 1801.9 L1303.8 1804.8 L1303.1 1803.9 L1304.2 1800.2 L1301.9 1802.8 L1304.9 1800.0 L1303.6 1803.2 L1302.1 1800.0 L1304.6 1797.1 L1306.3 1796.8 L1304.3 1792.2 L1304.5 1797.1 L1302.5 1794.3 L1304.2 1790.5 L1305.7 1791.2 L1305.0 1787.9 L1304.7 1797.1 L1304.2 1786.0 L1307.2 1788.2 L1304.6 1786.6 L1303.5 1781.6 L1305.8 1783.2 L1305.3 1781.0 L1305.3 1781.9 L1305.1 1780.8 L1305.1 1781.4 L1304.9 1780.4 L1307.5 1775.3 L1305.4 1773.8 L1305.6 1772.5 L1307.0 1770.4 L1307.6 1766.4 L1307.4 1773.2 L1306.8 1769.8 L1306.5 1768.3 L1307.5 1762.3 L1307.0 1761.7 L1307.4 1757.2 L1308.8 1764.3 L1307.9 1765.8 L1309.0 1764.5 L1307.6 1761.1 L1308.0 1756.6 L1308.5 1759.2 L1309.0 1758.1 L1307.5 1759.4 L1307.9 1758.5 L1311.2 1753.9 L1309.8 1753.7 L1309.1 1755.1 L1308.2 1753.2 L1309.6 1750.0 L1311.6 1742.1 L1312.2 1746.2 L1309.7 1750.2 L1311.3 1746.8 L1312.2 1748.4 L1312.5 1743.0 L1312.2 1743.3 L1312.3 1744.7 L1313.0 1743.3 L1312.1 1741.2 L1313.4 1742.5 L1314.1 1742.3 L1313.1 1741.4 L1315.2 1730.0 L1315.1 1732.8 L1313.7 1732.3 L1314.0 1731.1 L1315.0 1725.7 L1315.5 1734.6 L1315.8 1725.7 L1315.8 1728.4 L1315.6 1718.8 L1318.7 1724.4 L1319.4 1725.0 L1318.9 1722.4 L1320.0 1727.8 L1321.2 1733.2 L1322.8 1721.8 L1323.1 1721.6 L1324.6 1729.8 L1321.5 1724.7 L1323.1 1720.6 L1323.4 1716.3 L1322.7 1722.1 L1324.3 1719.2 L1324.4 1722.7 L1324.3 1713.4 L1324.4 1714.7 L1326.5 1713.2 L1325.2 1712.5 L1327.0 1715.7 L1325.8 1713.9 L1327.2 1707.8 L1325.8 1708.6 L1325.7 1707.1 L1328.4 1709.9 L1328.2 1705.2 L1331.0 1700.9 L1329.5 1702.5 L1329.6 1702.4 L1329.8 1704.7 L1329.2 1706.5 L1330.7 1707.6 L1329.9 1705.5 L1331.2 1703.6 L1330.2 1708.4 L1332.5 1706.8 L1331.5 1706.4 L1331.5 1710.6 L1332.5 1712.0 L1331.7 1714.6 L1330.6 1709.7 L1332.6 1708.1 L1334.1 1716.6 L1332.5 1712.7 L1334.6 1720.4 L1334.8 1714.3 L1334.8 1717.2 L1332.6 1714.0 L1337.7 1728.2 L1336.6 1720.8 L1335.4 1723.1 L1334.7 1722.6 L1334.8 1724.7 L1334.5 1729.3 L1336.2 1727.9 L1338.2 1728.6 L1335.9 1733.7 L1337.4 1726.1 L1338.8 1735.6 L1339.4 1738.2 L1339.0 1729.1 L1338.2 1735.8 L1341.5 1731.5 L1340.4 1729.8 L1340.7 1735.1 L1341.5 1740.8 L1340.0 1742.6 L1339.9 1739.9 L1340.3 1739.2 L1343.5 1741.7 L1342.7 1741.8 L1341.0 1743.1 L1341.6 1738.1 L1343.2 1746.6 L1342.1 1748.0 L1343.6 1756.9 L1344.4 1752.8 L1344.8 1751.2 L1346.0 1752.8 L1347.1 1754.5 L1345.6 1752.9 L1346.1 1750.4 L1348.0 1754.9 L1346.9 1757.3 L1347.1 1759.2 L1348.2 1758.1 L1347.7 1758.6 L1347.8 1761.4 L1349.4 1763.2 L1348.1 1765.6 L1348.6 1764.6 L1349.5 1767.4 L1350.6 1764.7 L1348.2 1770.5 L1351.7 1769.2 L1351.5 1766.9 L1349.7 1770.8 L1352.2 1772.8 L1350.9 1770.8 L1353.2 1776.5 L1352.2 1774.8 L1353.0 1777.9 L1351.4 1775.2 L1353.1 1779.6 L1353.1 1781.8 L1354.6 1779.8 L1353.6 1781.5 L1355.1 1781.5 L1357.5 1784.9 L1355.1 1785.2 L1356.6 1787.5 L1355.2 1787.1 L1356.8 1785.0 L1354.9 1786.0 L1357.8 1789.3 L1356.2 1792.8 L1356.0 1798.5 L1356.3 1796.0 L1356.7 1793.2 L1358.3 1790.6 L1358.1 1798.3 L1359.2 1798.0 L1359.1 1795.9 L1358.0 1802.5 L1358.6 1801.2 L1360.4 1801.2 L1361.1 1798.3 L1361.0 1806.9 L1361.0 1805.7 L1359.2 1805.9 L1358.1 1805.2 L1362.0 1807.8 L1360.8 1813.0 L1360.1 1812.2 L1361.3 1817.2 L1362.4 1815.8 L1361.6 1815.0 L1361.1 1817.5 L1362.1 1816.7 L1363.5 1813.5 L1363.7 1816.8 L1360.6 1820.3 L1364.1 1818.1 L1363.6 1820.3 L1365.1 1819.4 L1361.7 1828.1 L1364.2 1821.4 L1363.9 1823.2 L1364.5 1824.7 L1363.8 1830.6 L1364.8 1832.0 L1364.4 1828.7 L1366.4 1832.7 L1369.4 1830.0 L1366.3 1833.4 L1366.0 1841.3 L1370.6 1838.0 L1366.9 1836.5 L1366.8 1834.3 L1368.4 1838.0 L1366.5 1836.5 L1367.6 1835.3 L1366.4 1843.6 L1368.8 1844.6 L1367.5 1844.7 L1367.8 1847.9 L1368.1 1842.0 L1370.1 1851.1 L1368.8 1845.7 L1369.2 1850.6 L1370.4 1851.9 L1371.4 1854.6 L1367.5 1858.0 L1371.3 1854.8 L1371.7 1854.0 L1372.0 1853.2 L1371.6 1857.8 L1370.3 1856.0 L1371.9 1855.8 L1371.9 1859.9 L1372.1 1863.2 L1371.8 1861.8 L1371.9 1860.9 L1370.0 1865.1 L1373.0 1862.6 L1373.9 1862.9 L1374.4 1871.7 L1375.2 1869.7 L1375.0 1875.3 L1373.5 1867.4 L1374.8 1875.0 L1373.8 1872.9 L1375.9 1881.4 L1374.3 1874.9 L1376.7 1875.4 L1373.8 1878.8 L1375.8 1879.2 L1375.9 1878.6 L1375.2 1883.3 L1375.3 1883.8 L1375.5 1885.4 L1377.8 1885.2 L1376.1 1883.4 L1375.7 1884.5 L1375.9 1888.9 L1378.2 1886.0 L1376.9 1894.0 L1380.2 1890.7 L1380.4 1889.6 L1378.7 1895.5 L1378.0 1893.8 L1379.9 1898.1 L1378.1 1896.6 L1380.2 1901.7 L1379.9 1897.2 L1379.5 1893.6 L1378.8 1896.4 L1380.2 1897.2 L1379.9 1904.0 L1380.5 1908.3 L1380.2 1904.2 L1382.3 1902.3 L1379.0 1908.6 L1379.4 1909.1 L1381.8 1908.0 L1381.4 1911.1 L1379.9 1911.2 L1382.3 1909.3 L1381.9 1915.1 L1379.0 1913.1 L1384.1 1913.0 L1382.1 1916.0 L1382.1 1921.7 L1382.2 1923.8 L1381.3 1923.5 L1382.3 1919.6 L1384.4 1919.3 L1382.8 1923.9 L1384.0 1923.7 L1381.8 1925.6 L1384.6 1923.4 L1384.0 1925.1 L1384.7 1925.7 L1384.6 1931.5 L1384.8 1933.4 L1384.9 1929.9 L1386.8 1934.3 L1387.0 1935.5 L1385.6 1933.0 L1386.6 1936.1 L1385.4 1939.2 L1385.5 1935.6 L1386.2 1942.5 L1388.1 1939.8 L1384.0 1941.6 L1386.3 1941.9 L1388.0 1939.7 L1388.3 1945.5 L1387.9 1945.7 L1387.2 1945.7 L1388.9 1947.3 L1389.6 1950.0 L1390.1 1949.7 L1389.6 1949.7 L1389.0 1952.4 L1390.1 1955.2 L1391.0 1954.4 L1390.1 1953.3 L1390.4 1958.7 L1389.0 1956.8 L1392.2 1960.2 L1391.0 1959.3 L1388.9 1958.3 L1392.0 1958.6 L1393.4 1960.6 L1389.2 1963.4 L1394.0 1959.2 L1392.3 1967.2 L1393.4 1970.1 L1391.6 1967.7 L1393.5 1966.5 L1393.2 1966.1 L1394.0 1972.1 L1392.3 1973.7 L1392.9 1973.8 L1392.4 1976.6 L1396.6 1974.1 L1395.4 1976.3 L1394.6 1978.7 L1395.1 1978.5 L1394.2 1981.4 L1395.1 1982.5 L1396.1 1981.6 L1394.0 1980.9 L1394.2 1982.6 L1395.0 1988.4 L1395.7 1983.5 L1398.3 1987.8 L1397.2 1986.2 L1397.1 1995.8 L1398.7 1989.3 L1398.5 1993.6 L1398.4 1990.6 L1398.5 2002.5 L1398.8 1991.8 L1396.5 1997.3 L1400.2 1994.1 L1399.9 2000.6 L1400.5 1996.3 L1400.6 1999.5 L1400.0 1997.6 L1400.6 2001.8 L1399.2 2003.9 L1401.7 2009.5 L1401.6 2000.1 L1400.8 2008.6 L1400.3 2008.3 L1401.3 2007.7 L1399.1 2009.9 L1400.9 2012.5 L1404.7 2012.5 L1401.6 2013.5 L1401.3 2012.7 L1402.1 2014.8 L1401.4 2018.2 L1400.9 2015.6 L1403.3 2017.7 L1400.9 2020.3 L1403.3 2022.1 L1403.0 2023.3 L1403.2 2022.9 L1403.9 2019.2 L1403.5 2027.6 L1405.9 2029.3 L1404.2 2030.8 L1406.8 2029.7 L1404.3 2032.1 L1404.6 2030.2 L1404.5 2029.2 L1403.1 2032.7 L1403.4 2033.6 L1408.0 2037.9 L1406.2 2038.5 L1405.5 2036.1 L1408.3 2037.5 L1407.6 2039.5 L1408.1 2040.9 L1406.5 2045.5 L1406.6 2041.6 L1408.4 2047.3 L1406.0 2041.4 L1405.3 2044.4 L1408.3 2051.5 L1408.0 2049.3 L1408.0 2049.6 L1407.6 2052.0 L1409.3 2050.7 L1406.6 2050.3 L1407.0 2049.6 L1407.8 2048.6 L1406.7 2047.9 L1407.2 2044.3 L1405.4 2045.7 L1405.8 2041.8 L1407.4 2044.1 L1405.7 2041.1 L1407.6 2041.1 L1407.3 2040.1 L1404.5 2036.4 L1404.4 2035.8 L1405.5 2035.8 L1405.2 2036.2 L1405.0 2036.4 L1405.3 2032.8 L1403.1 2030.1 L1406.0 2031.4 L1403.6 2029.6 L1402.7 2030.6 L1402.4 2030.7 L1405.0 2031.5 L1405.8 2021.1 L1403.6 2023.1 L1403.3 2023.0 L1402.3 2024.2 L1400.9 2022.8 L1401.7 2020.1 L1399.4 2020.9 L1401.1 2016.4 L1403.7 2015.8 L1400.0 2016.5 L1403.4 2011.9 L1400.1 2017.6 L1398.8 2010.4 L1400.7 2008.5 L1400.1 2011.1 L1400.9 2004.3 L1400.0 2007.0 L1397.4 2006.6 L1398.7 2009.3 L1399.3 2012.8 L1398.1 2004.3 L1400.1 1999.4 L1400.0 2002.4 L1397.2 2002.3 L1397.8 1998.0 L1397.3 2002.3 L1399.7 2006.6 L1399.9 2004.9 L1396.6 2002.6 L1397.7 2004.3 L1400.3 2002.6 L1397.8 2006.8 L1400.0 2007.5 L1400.5 2013.6 L1399.6 2007.1 L1402.6 2008.1 L1401.8 2013.8 L1400.6 2015.9 L1402.2 2014.0 L1400.9 2017.0 L1402.4 2019.3 L1402.9 2020.5 L1402.1 2020.6 L1400.4 2022.2 L1400.3 2017.9 L1403.4 2025.0 L1403.4 2024.4 L1403.9 2022.9 L1403.3 2025.1 L1401.6 2026.5 L1402.3 2026.9 L1404.1 2028.9 L1406.1 2029.4 L1403.9 2027.8 L1407.2 2038.1 L1402.3 2034.6 L1403.2 2040.4 L1404.7 2035.1 L1406.5 2041.0 L1404.6 2037.6 L1405.0 2043.1 L1404.6 2042.5 L1406.7 2043.1 L1407.6 2041.8 L1408.7 2043.9 L1406.1 2047.8 L1407.6 2040.3 L1406.9 2044.8 L1410.1 2044.4 L1407.5 2046.3 L1409.8 2051.4 L1409.3 2053.0 L1406.9 2051.4 L1410.0 2055.9 L1410.6 2052.2 L1408.1 2053.6 L1410.7 2056.6 L1409.5 2058.4 L1411.1 2058.1 L1410.9 2056.8 L1409.3 2062.1 L1410.8 2066.2 L1410.5 2061.9 L1411.0 2064.0 L1409.8 2062.2 L1412.2 2066.1 L1411.1 2064.9 L1411.5 2068.8 L1409.6 2073.4 L1411.7 2071.9 L1411.3 2069.7 L1410.0 2074.8 L1412.1 2069.3 L1412.0 2078.0 L1413.0 2076.8 L1412.8 2074.3 L1413.9 2077.3 L1411.5 2076.9 L1414.7 2085.5 L1414.6 2082.9 L1413.8 2079.9 L1413.5 2081.9 L1411.8 2085.1 L1413.1 2084.3 L1411.3 2087.5 L1412.8 2089.0 L1413.4 2085.3 L1414.1 2091.8 L1415.5 2095.6 L1411.3 2093.2 L1411.5 2095.1 L1413.2 2093.2 L1413.5 2094.3 L1412.6 2097.5 L1414.2 2095.6 L1414.3 2094.8 L1415.4 2102.2 L1414.0 2099.5 L1414.8 2102.8 L1419.4 2103.6 L1414.6 2105.5 L1416.7 2107.1 L1416.1 2108.0 L1413.0 2106.9 L1414.4 2110.9 L1414.1 2108.9 L1416.7 2111.9 L1415.5 2110.4 L1415.8 2113.3 L1416.2 2112.0 L1418.2 2118.9 L1416.5 2117.2 L1416.3 2115.5 L1418.0 2113.9 L1416.9 2117.7 L1417.8 2124.0 L1418.7 2120.1 L1419.0 2125.3 L1418.9 2123.3 L1417.0 2124.1 L1416.2 2123.3 L1419.0 2127.9 L1421.2 2130.9 L1419.1 2131.3 L1419.5 2131.7 L1420.6 2128.7 L1419.9 2132.7 L1422.1 2130.6 L1421.8 2132.4 L1418.4 2136.7 L1421.2 2134.0 L1421.7 2139.1 L1421.1 2138.1 L1422.4 2143.7 L1421.0 2140.7 L1422.2 2143.4 L1421.8 2145.8 L1422.0 2145.8 L1424.2 2147.0 L1423.5 2141.9 L1423.6 2149.8 L1424.2 2144.4 L1425.5 2147.9 L1423.2 2144.4 L1425.4 2150.9 L1426.3 2151.1 L1424.6 2153.3 L1425.3 2152.4 L1426.6 2155.6 L1424.9 2155.3 L1426.0 2157.7 L1424.7 2161.4 L1427.3 2154.8 L1427.2 2161.3 L1425.4 2162.1 L1425.4 2159.6 L1426.6 2163.6 L1426.1 2169.5 L1425.6 2167.8 L1426.2 2166.5 L1427.5 2170.9 L1426.8 2171.0 L1426.2 2167.9 L1426.4 2171.3 L1429.4 2173.2 L1427.6 2174.5 L1428.6 2176.4 L1428.3 2176.6 L1428.9 2177.8 L1428.7 2177.4 L1430.9 2178.9 L1426.6 2179.6 L1430.9 2183.3 L1428.9 2182.8 L1430.8 2182.7 L1430.3 2187.2 L1432.4 2192.6 L1431.1 2187.1 L1431.0 2191.8 L1430.7 2188.2 L1430.4 2191.3 L1430.4 2194.2 L1431.3 2195.8 L1430.5 2199.5 L1431.3 2193.9 L1431.4 2196.4 L1431.4 2200.8 L1431.9 2201.8 L1432.7 2197.3 L1432.2 2200.6 L1433.7 2204.3 L1434.0 2205.9 L1432.1 2201.4 L1434.0 2205.8 L1433.5 2200.2 L1433.7 2209.6 L1435.3 2212.6 L1435.0 2206.3 L1435.2 2209.6 L1436.2 2207.6 L1437.2 2211.1 L1437.8 2214.8 L1435.7 2215.9 L1437.5 2216.5 L1436.1 2212.9 L1434.1 2215.4 L1435.9 2223.5 L1438.0 2220.3 L1439.5 2219.7 L1439.5 2222.5 L1440.0 2221.4 L1440.2 2224.4 L1437.2 2223.0 L1439.4 2224.3 L1439.3 2223.1 L1440.6 2232.7 L1442.2 2231.1 L1442.6 2231.9 L1443.6 2233.6 L1441.9 2232.1 L1441.6 2230.6 L1443.3 2235.8 L1443.2 2237.3 L1445.2 2238.0 L1442.6 2236.6 L1446.3 2234.8 L1446.1 2241.8 L1445.7 2241.9 L1444.0 2241.7 L1444.7 2242.3 L1443.9 2243.6 L1447.2 2243.5 L1447.2 2242.2 L1445.7 2246.8 L1448.5 2247.0 L1447.9 2250.0 L1447.8 2249.4 L1448.0 2252.0 L1449.8 2248.9 L1449.1 2253.7 L1450.0 2258.4 L1453.1 2253.3 L1450.7 2255.6 L1453.0 2256.8 L1454.2 2255.1 L1456.6 2253.8 L1455.8 2248.1 L1454.4 2249.0 L1457.4 2254.0 L1454.7 2249.5 L1456.2 2248.5 L1455.2 2251.9 L1457.8 2241.4 L1457.5 2247.6 L1455.9 2245.5 L1457.2 2237.7 L1458.1 2240.0 L1460.1 2241.8 L1460.5 2237.8 L1459.5 2236.6 L1461.4 2239.1 L1459.1 2236.0 L1459.4 2235.9 L1460.4 2234.0 L1460.3 2233.7 L1460.9 2233.1 L1461.4 2237.0 L1463.3 2231.3 L1461.5 2227.3 L1462.9 2229.1 L1463.8 2227.8 L1465.0 2234.6 L1465.0 2221.3 L1465.1 2225.7 L1465.4 2223.6 L1464.9 2225.8 L1465.1 2218.2 L1465.3 2216.6 L1468.7 2219.6 L1464.8 2219.8 L1466.5 2217.7 L1466.1 2217.1 L1466.8 2214.2 L1468.7 2215.9 L1465.9 2212.5 L1463.4 2209.8 L1465.5 2213.8 L1467.4 2206.7 L1466.4 2203.7 L1467.3 2205.7 L1466.7 2205.3 L1469.4 2204.4 L1466.5 2202.7 L1467.9 2203.3 L1470.8 2200.4 L1468.8 2197.9 L1468.1 2202.7 L1470.6 2197.6 L1467.6 2199.8 L1470.0 2196.3 L1468.5 2196.0 L1469.5 2197.7 L1469.9 2187.7 L1468.9 2194.4 L1468.5 2190.6 L1469.5 2191.6 L1472.3 2187.0 L1468.9 2187.1 L1470.9 2185.6 L1470.8 2182.1 L1472.5 2183.7 L1469.3 2187.5 L1470.5 2185.0 L1470.4 2184.2 L1468.8 2178.9 L1470.3 2178.0 L1472.4 2176.2 L1472.4 2170.9 L1472.0 2174.5 L1470.6 2172.1 L1472.9 2175.3 L1473.7 2174.3 L1472.4 2172.0 L1473.8 2167.4 L1472.9 2167.1 L1473.7 2171.1 L1473.0 2167.3 L1472.6 2168.0 L1473.2 2163.2 L1474.7 2165.7 L1473.5 2161.3 L1476.8 2159.8 L1474.6 2160.7 L1473.9 2157.0 L1474.4 2154.8 L1474.9 2160.3 L1473.9 2157.4 L1475.6 2153.3 L1475.6 2153.4 L1475.1 2155.3 L1477.6 2150.0 L1475.9 2143.9 L1476.5 2155.0 L1476.0 2144.2 L1477.6 2145.8 L1475.7 2140.2 L1476.7 2139.1 L1478.4 2144.5 L1478.2 2139.2 L1479.8 2143.2 L1477.8 2140.0 L1478.4 2139.0 L1478.6 2139.9 L1478.7 2139.0 L1478.9 2139.7 L1478.5 2131.5 L1480.9 2132.1 L1479.5 2134.7 L1482.4 2133.9 L1481.0 2129.5 L1479.7 2126.6 L1480.8 2128.7 L1481.3 2119.9 L1481.4 2122.2 L1480.8 2128.4 L1483.7 2121.1 L1482.3 2128.7 L1482.8 2122.6 L1481.9 2121.9 L1482.6 2127.2 L1484.2 2121.5 L1484.7 2117.2 L1484.2 2115.6 L1485.3 2114.3 L1485.5 2109.6 L1483.2 2114.9 L1485.6 2113.0 L1485.2 2110.1 L1487.5 2113.1 L1487.7 2108.2 L1485.4 2104.2 L1488.6 2104.9 L1487.7 2106.6 L1489.0 2106.5 L1490.1 2110.4 L1490.3 2105.6 L1489.8 2109.1 L1491.5 2111.5 L1489.9 2111.5 L1489.8 2111.8 L1487.5 2109.1 L1487.9 2112.2 L1489.2 2119.9 L1490.7 2115.8 L1490.7 2116.3 L1489.6 2114.5 L1490.1 2119.3 L1491.1 2124.2 L1491.0 2119.2 L1492.7 2119.5 L1493.0 2122.8 L1491.3 2122.8 L1492.0 2123.4 L1492.8 2131.8 L1491.5 2129.3 L1493.9 2124.7 L1494.4 2129.3 L1492.7 2132.9 L1491.7 2130.8 L1493.8 2134.8 L1492.4 2130.8 L1492.6 2136.2 L1493.4 2135.8 L1494.7 2138.5 L1493.5 2138.0 L1496.2 2137.5 L1492.0 2141.3 L1492.3 2142.6 L1492.8 2144.2 L1493.7 2140.0 L1495.1 2143.4 L1493.4 2145.2 L1494.9 2146.1 L1493.6 2147.0 L1491.5 2149.3 L1494.8 2153.7 L1494.1 2155.7 L1494.7 2155.4 L1495.2 2154.9 L1495.5 2146.1 L1494.6 2153.9 L1494.4 2158.1 L1494.7 2155.4 L1494.8 2161.8 L1495.9 2158.3 L1495.3 2161.5 L1495.1 2161.1 L1493.6 2164.0 L1494.1 2160.7 L1496.9 2164.7 L1495.5 2164.4 L1496.3 2164.8 L1497.2 2164.5 L1494.5 2172.4 L1496.3 2168.1 L1494.1 2173.9 L1496.6 2172.8 L1497.5 2175.4 L1499.2 2175.3 L1496.7 2176.3 L1495.8 2174.2 L1497.6 2185.5 L1497.3 2182.4 L1498.9 2183.3 L1497.4 2176.1 L1498.2 2181.2 L1495.1 2182.1 L1497.5 2185.6 L1499.1 2184.4 L1498.5 2188.9 L1498.4 2188.7 L1498.2 2191.6 L1500.0 2193.5 L1498.2 2189.5 L1499.3 2191.2 L1497.9 2191.5 L1500.0 2197.1 L1499.3 2195.8 L1498.6 2196.0 L1500.9 2194.9 L1500.1 2200.3 L1499.4 2200.4 L1499.9 2201.8 L1499.4 2201.7 L1498.6 2200.0 L1499.7 2208.1 L1501.2 2205.9 L1498.7 2207.7 L1499.3 2206.2 L1500.6 2212.7 L1498.6 2208.2 L1499.4 2210.2 L1499.9 2210.2 L1501.2 2210.7 L1499.6 2216.7 L1499.2 2214.6 L1500.1 2214.2 L1501.9 2217.5 L1499.9 2218.3 L1499.6 2220.3 L1501.0 2219.8 L1500.8 2223.0 L1501.7 2219.2 L1501.1 2222.2 L1501.5 2227.5 L1502.4 2228.9 L1500.2 2223.2 L1502.8 2229.9 L1500.5 2229.9 L1501.7 2234.1 L1504.5 2229.5 L1503.0 2234.3 L1501.1 2236.6 L1501.9 2232.0 L1501.8 2234.9 L1503.0 2240.2 L1503.7 2238.2 L1502.5 2242.2 L1499.5 2241.5 L1502.9 2238.6 L1503.5 2243.5 L1502.1 2245.3 L1503.5 2244.0 L1502.2 2249.2 L1503.9 2244.2 L1499.7 2248.5 L1501.5 2248.9 L1502.3 2248.8 L1503.4 2248.2 L1503.9 2247.8 L1504.4 2251.0 L1504.8 2254.8 L1502.9 2254.8 L1503.0 2257.0 L1504.6 2257.9 L1504.6 2258.4 L1505.3 2261.2 L1503.5 2263.9 L1504.5 2259.0 L1504.2 2264.6 L1506.5 2260.8 L1505.9 2271.8 L1506.4 2264.8 L1506.7 2267.3 L1508.0 2271.6 L1505.1 2271.5 L1505.0 2274.0 L1507.0 2276.3 L1507.0 2273.0 L1506.8 2279.9 L1505.5 2274.1 L1507.5 2275.8 L1510.2 2279.7 L1508.7 2272.2 L1512.1 2277.4 L1511.6 2279.4 L1514.3 2282.9 L1512.5 2279.8 L1514.2 2284.6 L1513.8 2280.5 L1513.0 2286.6 L1516.4 2286.9 L1516.1 2284.4 L1516.3 2285.8 L1518.1 2286.3 L1519.6 2284.7 L1518.1 2283.2 L1518.7 2287.1 L1518.9 2283.6 L1518.9 2282.6 L1522.5 2276.4 L1518.2 2279.2 L1521.8 2281.0 L1519.8 2277.5 L1520.0 2274.7 L1518.8 2274.7 L1520.4 2276.0 L1522.1 2272.4 L1521.8 2266.3 L1521.5 2268.7 L1521.0 2270.0 L1521.1 2264.5 L1522.0 2267.5 L1522.5 2267.6 L1522.8 2271.0 L1523.6 2268.0 L1521.6 2264.1 L1521.8 2257.5 L1523.5 2261.7 L1522.6 2256.1 L1524.1 2256.1 L1523.2 2260.6 L1523.0 2254.6 L1525.0 2257.3 L1523.0 2255.0 L1525.7 2255.8 L1522.3 2251.8 L1524.7 2250.8 L1525.8 2254.1 L1524.8 2250.9 L1526.8 2248.9 L1525.7 2246.9 L1525.2 2247.3 L1525.3 2244.5 L1526.9 2245.3 L1527.3 2242.4 L1524.8 2237.1 L1526.1 2236.1 L1525.0 2237.6 L1526.7 2243.5 L1526.7 2240.8 L1528.3 2235.1 L1528.1 2233.0 L1526.0 2232.7 L1526.7 2232.3 L1526.9 2234.9 L1527.2 2229.2 L1526.7 2225.8 L1527.6 2227.2 L1528.8 2224.3 L1529.9 2230.3 L1528.4 2224.9 L1530.1 2224.5 L1531.8 2223.1 L1528.6 2217.1 L1529.3 2221.7 L1529.3 2221.2 L1531.0 2217.8 L1532.6 2218.7 L1530.2 2215.8 L1531.9 2215.4 L1531.8 2216.7 L1531.6 2212.5 L1531.0 2213.8 L1532.7 2211.6 L1532.1 2210.3 L1532.0 2207.9 L1532.0 2206.3 L1533.0 2207.1 L1533.3 2209.1 L1534.3 2206.0 L1533.6 2207.0 L1535.0 2202.9 L1533.9 2197.8 L1536.3 2203.9 L1536.9 2199.7 L1536.8 2201.6 L1534.3 2199.7 L1539.6 2198.9 L1535.8 2196.9 L1536.6 2187.0 L1538.3 2195.8 L1537.0 2193.4 L1539.0 2193.6 L1540.1 2193.9 L1539.1 2193.5 L1538.1 2195.4 L1539.3 2190.9 L1541.0 2196.0 L1539.6 2198.7 L1541.0 2199.6 L1539.8 2196.6 L1541.3 2195.2 L1544.1 2199.4 L1541.7 2202.1 L1542.9 2203.8 L1542.4 2208.4 L1542.6 2208.4 L1545.2 2204.3 L1543.7 2208.9 L1545.1 2207.3 L1543.4 2211.5 L1543.8 2208.7 L1545.2 2214.9 L1545.4 2211.2 L1546.2 2212.8 L1546.2 2212.4 L1544.5 2218.0 L1546.8 2217.1 L1546.9 2219.1 L1546.8 2221.1 L1546.7 2218.0 L1547.5 2225.6 L1547.9 2224.4 L1547.4 2224.0 L1547.9 2224.5 L1547.6 2224.9 L1548.2 2225.3 L1547.8 2230.1 L1548.9 2229.3 L1550.5 2229.9 L1548.3 2229.5 L1546.3 2232.5 L1547.8 2238.4 L1551.0 2235.4 L1548.9 2230.1 L1551.5 2230.4 L1551.5 2239.3 L1551.2 2235.0 L1549.3 2240.4 L1549.4 2242.3 L1549.8 2243.6 L1550.3 2248.0 L1551.2 2242.9 L1552.6 2245.6 L1552.5 2244.6 L1553.1 2243.9 L1550.6 2246.3 L1553.6 2253.2 L1552.6 2254.3 L1552.5 2249.5 L1552.1 2254.8 L1552.2 2253.3 L1554.5 2257.2 L1553.6 2253.6 L1553.9 2257.8 L1552.6 2258.5 L1554.9 2256.9 L1554.2 2258.8 L1551.8 2260.1 L1554.2 2262.5 L1554.3 2267.9 L1554.2 2268.8 L1554.3 2269.9 L1554.5 2268.4 L1555.3 2270.4 L1553.9 2266.4 L1555.5 2270.2 L1556.3 2274.1 L1557.1 2273.2 L1555.5 2271.6 L1556.0 2275.7 L1557.0 2276.1 L1558.5 2277.1 L1557.5 2276.3 L1558.7 2280.5 L1555.9 2279.4 L1556.3 2279.0 L1559.0 2282.0 L1555.8 2284.6 L1558.6 2287.7 L1560.0 2288.3 L1558.2 2281.8 L1558.4 2290.2 L1559.1 2290.1 L1558.7 2290.9 L1558.1 2294.4 L1558.7 2296.2 L1560.1 2294.7 L1560.4 2293.8 L1560.2 2293.7 L1558.6 2296.8 L1560.7 2298.4 L1560.7 2296.6 L1559.8 2304.0 L1560.4 2304.6 L1559.6 2304.0 L1562.1 2307.8 L1561.8 2306.2 L1560.6 2304.1 L1561.3 2308.4 L1559.8 2312.4 L1561.2 2307.7 L1563.9 2306.0 L1562.5 2313.0 L1563.4 2307.1 L1563.0 2310.0 L1561.4 2314.6 L1564.2 2313.7 L1563.3 2320.3 L1564.3 2317.0 L1564.6 2319.7 L1563.1 2322.0 L1561.1 2320.3 L1564.8 2322.6 L1565.4 2317.7 L1565.3 2328.8 L1565.2 2324.8 L1563.2 2324.9 L1562.8 2325.1 L1564.9 2328.3 L1565.4 2327.3 L1564.7 2330.5 L1565.4 2329.3 L1565.9 2328.3 L1564.3 2331.1 L1565.7 2332.1 L1564.9 2336.3 L1565.5 2336.7 L1565.4 2336.1 L1565.5 2339.4 L1568.1 2338.0 L1564.3 2340.6 L1565.8 2341.0 L1566.4 2343.9 L1563.9 2341.7 L1567.0 2344.7 L1567.2 2346.0 L1567.0 2344.4 L1567.6 2348.4 L1566.0 2349.3 L1567.7 2352.9 L1564.8 2348.7 L1568.1 2348.9 L1567.2 2349.6 L1568.3 2355.4 L1570.1 2354.5 L1568.2 2354.4 L1571.1 2358.7 L1570.4 2361.4 L1568.0 2365.2 L1571.3 2364.6 L1569.4 2360.8 L1568.8 2367.3 L1570.4 2362.7 L1570.6 2366.8 L1569.3 2368.8 L1571.0 2364.1 L1569.8 2369.4 L1571.4 2370.4 L1572.0 2376.9 L1571.5 2370.7 L1571.1 2375.3 L1570.5 2374.0 L1571.4 2375.8 L1570.2 2374.2 L1573.5 2380.3 L1572.5 2382.1 L1573.3 2383.0 L1571.1 2376.6 L1572.4 2377.3 L1571.3 2383.0 L1572.0 2387.2 L1572.4 2387.5 L1571.7 2385.8 L1570.9 2385.8 L1573.9 2393.0 L1573.6 2393.4 L1573.2 2388.9 L1574.2 2391.8 L1573.9 2392.8 L1573.0 2399.5 L1574.4 2397.0 L1575.0 2399.2 L1575.2 2395.1 L1574.4 2399.2 L1575.3 2399.3 L1573.8 2401.1 L1575.7 2402.8 L1574.0 2402.7 L1575.4 2401.2 L1574.3 2408.1 L1573.7 2403.7 L1575.0 2405.2 L1578.4 2403.5 L1575.8 2410.3 L1575.5 2410.8 L1575.8 2409.9 L1577.0 2410.4 L1575.5 2414.2 L1576.6 2414.1 L1578.7 2413.3 L1575.2 2418.2 L1576.7 2420.5 L1578.0 2420.2 L1578.2 2422.5 L1576.4 2422.0 L1577.8 2426.5 L1576.4 2425.9 L1577.0 2423.8 L1576.5 2428.6 L1576.1 2427.8 L1577.9 2426.6 L1578.3 2427.3 L1576.0 2429.4 L1578.9 2426.2 L1577.1 2430.3 L1580.3 2432.1 L1580.2 2430.5 L1579.7 2433.3 L1579.3 2434.1 L1577.7 2433.8 L1579.5 2438.5 L1579.0 2440.5 L1577.6 2441.9 L1581.3 2445.1 L1580.8 2442.8 L1579.6 2443.1 L1580.9 2445.4 L1579.3 2449.7 L1580.4 2451.7 L1580.6 2447.2 L1580.3 2450.8 L1581.8 2450.4 L1581.6 2453.4 L1581.2 2446.7" fill="none" stroke="#000" stroke-width="1.6" stroke-linejoin="bevel" stroke-linecap="butt" stroke-dasharray="7.5 2.6"/>
<path d="M669.6 2446.6 L669.7 2440.4 L669.9 2438.9 L670.0 2432.3 L670.1 2438.1 L670.2 2436.3 L670.4 2434.8 L670.5 2435.9 L670.6 2435.2 L670.7 2430.4 L670.9 2429.9 L671.0 2430.0 L671.1 2431.9 L671.2 2430.6 L671.4 2424.9 L671.5 2424.3 L671.6 2428.1 L671.7 2429.2 L671.9 2424.1 L672.0 2421.5 L672.1 2425.0 L672.2 2420.5 L672.3 2422.1 L672.5 2423.2 L672.6 2419.9 L672.7 2417.5 L672.8 2418.2 L673.0 2413.6 L673.1 2413.8 L673.2 2411.8 L673.3 2411.8 L673.5 2410.1 L673.6 2409.9 L673.7 2408.4 L673.8 2408.6 L674.0 2407.5 L674.1 2407.1 L674.2 2409.0 L674.3 2400.4 L674.5 2406.7 L674.6 2401.8 L674.7 2398.2 L674.8 2400.0 L675.0 2399.7 L675.1 2401.2 L675.2 2394.7 L675.3 2397.0 L675.5 2395.7 L675.6 2390.1 L675.8 2390.4 L675.9 2394.0 L676.1 2393.3 L676.3 2393.3 L676.4 2390.9 L676.6 2389.6 L676.8 2387.9 L676.9 2389.7 L677.1 2383.4 L677.3 2384.2 L677.4 2384.6 L677.6 2378.6 L677.8 2385.0 L677.9 2378.6 L678.1 2379.5 L678.3 2384.2 L678.4 2375.6 L678.6 2375.4 L678.8 2379.7 L678.9 2372.0 L679.1 2372.6 L679.3 2374.1 L679.4 2372.9 L679.6 2372.3 L679.8 2370.8 L679.9 2372.3 L680.1 2370.4 L680.3 2368.4 L680.4 2364.1 L680.6 2363.1 L680.8 2359.0 L681.0 2364.7 L681.2 2357.3 L681.5 2363.2 L681.7 2364.7 L681.9 2356.3 L682.1 2356.3 L682.3 2355.8 L682.5 2358.2 L682.7 2352.9 L682.9 2353.8 L683.1 2351.8 L683.3 2351.5 L683.6 2354.5 L683.8 2347.7 L684.0 2349.4 L684.2 2349.0 L684.4 2349.5 L684.6 2343.1 L684.8 2348.2 L685.0 2345.5 L685.2 2345.6 L685.4 2342.6 L685.6 2337.2 L685.9 2338.8 L686.1 2341.6 L686.3 2338.6 L686.5 2337.4 L686.7 2341.1 L686.9 2341.2 L687.1 2334.5 L687.3 2338.5 L687.5 2327.5 L687.7 2326.4 L687.9 2332.9 L688.2 2329.0 L688.4 2330.2 L688.6 2329.0 L688.8 2326.5 L689.0 2327.5 L689.2 2325.2 L689.3 2319.9 L689.5 2323.4 L689.6 2322.3 L689.8 2325.5 L689.9 2316.9 L690.1 2318.9 L690.2 2316.8 L690.4 2316.5 L690.5 2320.1 L690.7 2315.9 L690.8 2312.7 L690.9 2313.3 L691.1 2313.9 L691.2 2308.4 L691.4 2309.3 L691.5 2312.9 L691.7 2310.2 L691.8 2306.9 L692.0 2304.8 L692.1 2304.6 L692.3 2300.0 L692.4 2305.4 L692.6 2302.9 L692.7 2301.4 L692.9 2296.7 L693.0 2297.2 L693.2 2299.4 L693.3 2297.8 L693.5 2294.8 L693.6 2296.4 L693.8 2296.5 L693.9 2291.4 L694.1 2290.8 L694.2 2288.9 L694.4 2287.2 L694.5 2291.2 L694.7 2289.5 L694.8 2288.1 L695.0 2283.2 L695.2 2282.6 L695.4 2284.1 L695.6 2282.2 L695.9 2282.6 L696.1 2279.6 L696.3 2282.0 L696.5 2284.0 L696.7 2282.4 L697.0 2281.6 L697.2 2276.6 L697.4 2277.8 L697.6 2273.5 L697.8 2275.9 L698.1 2271.6 L698.3 2270.3 L698.5 2269.0 L698.7 2271.4 L698.9 2269.4 L699.2 2268.2 L699.4 2263.8 L699.6 2266.1 L699.8 2261.1 L700.0 2267.6 L700.2 2262.5 L700.5 2262.3 L700.7 2260.6 L700.9 2255.8 L701.0 2255.4 L701.2 2257.8 L701.4 2260.7 L701.5 2253.1 L701.7 2253.1 L701.9 2253.8 L702.0 2248.6 L702.2 2247.6 L702.4 2249.9 L702.5 2249.9 L702.7 2248.0 L702.8 2252.0 L703.0 2246.6 L703.2 2247.0 L703.3 2249.2 L703.5 2248.5 L703.7 2239.0 L703.8 2241.2 L704.0 2244.1 L704.2 2236.6 L704.3 2236.8 L704.5 2234.8 L704.6 2233.7 L704.8 2233.3 L705.0 2235.7 L705.1 2237.5 L705.3 2237.2 L705.5 2232.3 L705.6 2226.2 L705.8 2230.1 L706.0 2228.4 L706.1 2229.2 L706.3 2227.0 L706.4 2221.7 L706.6 2226.4 L706.8 2219.1 L706.9 2221.6 L707.1 2223.2 L707.3 2222.3 L707.4 2224.4 L707.6 2213.4 L707.7 2219.3 L707.9 2219.2 L708.1 2215.6 L708.2 2217.1 L708.4 2211.7 L708.6 2215.2 L708.7 2213.9 L708.9 2209.0 L709.0 2208.8 L709.2 2209.1 L709.4 2206.9 L709.5 2210.3 L709.7 2207.0 L709.8 2209.0 L710.0 2207.6 L710.2 2203.8 L710.3 2202.2 L710.5 2199.2 L710.6 2198.6 L710.8 2197.6 L711.0 2199.6 L711.1 2195.4 L711.3 2196.9 L711.4 2196.2 L711.6 2193.5 L711.8 2193.3 L711.9 2196.5 L712.1 2195.9 L712.2 2188.8 L712.4 2189.3 L712.6 2187.9 L712.7 2187.1 L712.9 2190.8 L713.1 2187.6 L713.3 2188.1 L713.5 2188.5 L713.7 2181.8 L713.9 2181.5 L714.1 2181.1 L714.3 2182.6 L714.5 2178.8 L714.7 2179.7 L714.9 2180.0 L715.1 2179.1 L715.3 2176.2 L715.5 2172.1 L715.7 2169.2 L715.9 2175.0 L716.1 2172.3 L716.3 2167.8 L716.5 2167.9 L716.7 2167.1 L716.9 2163.0 L717.0 2166.9 L717.2 2163.3 L717.4 2163.6 L717.6 2165.2 L717.8 2162.1 L718.0 2162.8 L718.2 2161.5 L718.4 2159.5 L718.6 2158.5 L718.8 2162.2 L719.0 2156.0 L719.2 2159.6 L719.4 2152.2 L719.6 2155.4 L719.8 2153.0 L720.0 2149.7 L720.2 2143.8 L720.4 2153.7 L720.6 2145.7 L720.8 2145.2 L721.0 2147.0 L721.2 2145.8 L721.4 2145.4 L721.6 2143.1 L721.7 2138.9 L721.9 2144.0 L722.1 2138.5 L722.3 2140.4 L722.5 2140.3 L722.7 2140.9 L722.9 2136.3 L723.2 2135.1 L723.5 2134.3 L723.8 2129.3 L724.2 2131.1 L724.5 2129.5 L724.8 2128.2 L725.1 2130.6 L725.5 2128.5 L725.8 2132.4 L726.1 2131.2 L726.4 2121.6 L726.7 2125.8 L727.1 2122.0 L727.4 2125.0 L727.7 2123.0 L728.0 2124.1 L728.3 2121.5 L728.7 2121.7 L729.0 2117.4 L729.3 2105.9 L729.6 2111.3 L729.9 2111.9 L730.3 2112.7 L730.6 2109.2 L730.9 2121.0 L731.2 2111.4 L731.5 2117.5 L731.8 2108.7 L732.1 2117.3 L732.5 2102.7 L732.8 2110.3 L733.1 2100.1 L733.4 2107.7 L733.7 2112.2 L734.0 2095.8 L734.4 2098.5 L734.7 2102.9 L735.0 2099.9 L735.3 2093.3 L735.6 2104.5 L735.9 2098.2 L736.3 2103.2 L736.6 2097.6 L736.9 2089.6 L737.2 2091.9 L737.5 2099.9 L737.9 2085.6 L738.3 2089.2 L738.8 2093.4 L739.2 2094.5 L739.7 2092.7 L740.1 2080.8 L740.6 2096.9 L741.0 2085.2 L741.5 2085.2 L741.9 2084.2 L742.4 2082.2 L742.8 2077.8 L743.2 2080.0 L743.7 2087.1 L744.7 2074.0 L745.7 2068.7 L746.7 2082.8 L747.7 2081.7 L748.6 2083.4 L749.6 2088.0 L750.6 2076.1 L751.6 2080.2 L752.6 2081.6 L753.5 2084.8 L754.5 2083.5 L755.4 2074.2 L756.4 2071.3 L757.3 2076.3 L758.3 2069.6 L759.2 2082.3 L760.2 2074.8 L761.1 2074.7 L762.1 2072.2 L763.0 2084.1 L764.0 2078.5 L764.9 2075.4 L765.9 2080.7 L766.8 2077.6 L767.8 2081.2 L768.7 2085.0 L769.7 2077.7 L770.5 2081.9 L771.0 2082.6 L771.5 2086.6 L772.0 2084.9 L772.5 2083.1 L773.1 2080.7 L773.6 2086.0 L774.1 2080.5 L774.6 2089.5 L775.1 2087.5 L775.6 2090.7 L776.1 2086.4 L776.7 2085.9 L777.2 2086.3 L777.7 2096.8 L778.2 2091.3 L778.7 2092.1 L779.2 2085.5 L780.0 2094.5 L780.7 2078.8 L781.5 2102.6 L782.2 2095.6 L783.0 2097.5 L783.7 2091.2 L784.4 2093.5 L785.2 2102.3 L785.9 2099.1 L786.7 2102.8 L787.4 2107.5 L788.2 2105.3 L788.9 2093.6 L789.6 2098.7 L790.4 2098.6 L791.1 2100.4 L791.9 2095.4 L792.6 2096.3 L793.4 2103.2 L794.1 2104.6 L794.7 2110.7 L795.4 2107.4 L796.0 2116.5 L796.7 2101.7 L797.3 2104.6 L798.0 2113.2 L798.7 2111.4 L799.3 2108.8 L800.0 2118.0 L800.6 2120.3 L801.3 2122.1 L801.9 2114.6 L802.6 2117.3 L803.2 2119.2 L803.9 2119.1 L804.5 2124.5 L805.2 2118.0 L805.8 2122.9 L806.5 2111.3 L807.1 2126.2 L807.8 2131.3 L808.4 2124.0 L809.1 2129.9 L809.7 2117.7 L810.4 2124.8 L811.0 2119.8 L811.7 2129.5 L812.3 2131.2 L812.9 2122.9 L813.5 2126.2 L814.1 2128.3 L814.7 2143.5 L815.3 2132.3 L815.9 2134.1 L816.6 2136.0 L817.2 2136.5 L817.8 2134.7 L818.4 2130.3 L819.0 2134.2 L819.6 2146.1 L820.2 2140.3 L820.8 2138.0 L821.4 2134.1 L822.0 2141.1 L822.7 2142.4 L823.3 2139.9 L823.9 2148.1 L824.5 2141.8 L825.1 2144.6 L825.7 2150.2 L826.3 2148.0 L826.9 2153.1 L827.6 2147.4 L828.2 2147.2 L828.9 2152.3 L829.5 2151.8 L830.2 2155.7 L830.8 2153.7 L831.5 2153.0 L832.1 2155.4 L832.8 2156.9 L833.4 2151.4 L834.1 2155.6 L834.7 2155.7 L835.4 2161.8 L836.3 2156.3 L837.3 2162.0 L838.2 2154.1 L839.2 2158.6 L840.1 2162.9 L841.1 2158.5 L842.1 2163.8 L843.0 2152.8 L844.0 2160.4 L844.9 2161.1 L845.9 2160.4 L846.8 2155.8 L847.7 2163.3 L848.5 2152.1 L849.2 2163.0 L850.0 2160.1 L850.8 2161.9 L851.5 2156.8 L852.3 2153.2 L853.0 2154.6 L853.8 2154.2 L854.6 2157.2 L855.3 2153.4 L856.1 2155.3 L856.9 2154.9 L857.6 2157.6 L858.4 2144.9 L859.1 2149.8 L860.1 2153.8 L861.1 2153.9 L862.1 2149.6 L863.1 2150.8 L864.1 2151.5 L865.1 2152.4 L866.1 2150.1 L867.1 2149.9 L868.1 2148.4 L869.1 2151.1 L870.0 2157.4 L871.0 2149.3 L872.0 2156.2 L873.0 2159.7 L874.0 2153.7 L875.0 2161.4 L876.0 2152.8 L877.0 2159.2 L878.0 2153.4 L879.0 2149.4 L880.0 2155.0 L881.0 2160.6 L882.0 2152.0 L882.9 2155.9 L883.9 2150.9 L884.9 2151.4 L885.9 2156.3 L886.9 2154.2 L887.9 2156.9 L888.9 2159.6 L889.9 2151.1 L890.9 2153.0 L891.9 2155.6 L892.8 2163.4 L893.8 2153.8 L894.7 2153.0 L895.7 2156.0 L896.7 2161.6 L897.6 2151.9 L898.6 2152.6 L899.6 2153.5 L900.5 2155.8 L901.5 2160.5 L902.4 2148.2 L903.4 2146.5 L904.4 2152.6 L905.3 2153.7 L906.3 2143.7 L907.2 2149.7 L908.1 2155.7 L909.0 2150.9 L909.8 2155.0 L910.7 2154.4 L911.6 2156.5 L912.5 2156.3 L913.3 2156.2 L914.2 2160.1 L915.1 2154.2 L916.0 2157.1 L916.8 2161.2 L917.7 2155.7 L918.6 2156.9 L919.3 2156.3 L920.0 2156.3 L920.7 2167.4 L921.4 2162.7 L922.1 2168.4 L922.8 2165.0 L923.5 2163.4 L924.2 2162.9 L924.9 2165.5 L925.6 2165.1 L926.3 2169.2 L927.0 2163.6 L927.8 2168.0 L928.5 2169.8 L929.2 2168.0 L929.9 2168.7 L930.5 2172.2 L931.2 2173.0 L931.8 2171.5 L932.4 2172.6 L933.0 2171.4 L933.7 2176.1 L934.3 2174.5 L934.9 2170.2 L935.5 2175.4 L936.2 2179.4 L936.8 2178.6 L937.4 2176.6 L938.0 2181.3 L938.7 2181.7 L939.3 2182.5 L939.9 2185.5 L940.5 2181.8 L941.2 2184.8 L941.8 2183.5 L942.4 2187.3 L942.9 2188.6 L943.4 2187.9 L943.8 2189.3 L944.3 2186.5 L944.8 2190.8 L945.3 2187.3 L945.8 2196.2 L946.3 2194.6 L946.8 2189.1 L947.3 2187.2 L947.8 2197.6 L948.3 2193.2 L948.8 2197.5 L949.3 2193.9 L949.8 2198.0 L950.3 2197.2 L950.8 2201.0 L951.3 2199.7 L951.8 2204.9 L952.3 2200.4 L952.8 2206.1 L953.3 2203.9 L953.8 2206.0 L954.3 2201.8 L954.8 2202.3 L955.3 2209.9 L955.8 2205.3 L956.3 2208.3 L956.8 2209.2 L957.4 2208.6 L957.9 2212.1 L958.4 2209.1 L958.9 2210.5 L959.4 2216.4 L959.9 2213.1 L960.5 2217.7 L961.0 2218.4 L961.5 2221.3 L962.0 2219.6 L962.5 2214.9 L963.1 2218.6 L963.8 2219.9 L964.5 2224.5 L965.2 2223.1 L965.9 2221.8 L966.6 2224.7 L967.3 2223.5 L968.0 2226.4 L968.7 2226.2 L969.6 2229.0 L970.5 2227.6 L971.4 2229.7 L972.2 2227.7 L973.1 2229.9 L974.0 2228.3 L974.9 2230.7 L975.7 2230.2 L976.6 2229.9 L977.5 2229.6 L978.4 2230.5 L979.2 2232.7 L980.1 2226.6 L980.8 2235.7 L981.2 2228.0 L981.6 2234.1 L982.0 2234.7 L982.4 2238.2 L982.8 2237.9 L983.2 2238.1 L983.6 2239.3 L984.0 2242.3 L984.4 2246.6 L984.8 2242.8 L985.2 2237.9 L985.6 2242.7 L986.0 2245.6 L986.5 2253.5 L986.9 2244.6 L987.3 2246.5 L987.7 2249.6 L988.1 2250.0 L988.5 2246.9 L988.9 2253.3 L989.3 2248.8 L989.8 2252.2 L990.4 2256.8 L991.0 2251.3 L991.6 2254.4 L992.2 2260.0 L992.8 2256.2 L993.4 2255.1 L994.0 2257.0 L994.6 2261.2 L995.2 2256.3 L995.8 2259.3 L996.4 2258.1 L997.0 2259.6 L997.6 2266.3 L998.2 2263.8 L998.7 2263.8 L999.1 2266.8 L999.6 2264.9 L1000.0 2264.7 L1000.5 2271.2 L1000.9 2271.5 L1001.4 2268.2 L1001.8 2272.8 L1002.2 2275.5 L1002.7 2274.1 L1003.1 2275.0 L1003.6 2271.7 L1004.0 2275.3 L1004.5 2272.0 L1004.9 2280.1 L1005.4 2277.9 L1005.8 2282.4 L1006.3 2278.2 L1006.7 2283.1 L1007.2 2278.0 L1007.5 2281.8 L1007.8 2285.1 L1008.2 2285.6 L1008.5 2285.5 L1008.8 2282.6 L1009.1 2290.7 L1009.4 2290.1 L1009.7 2292.2 L1010.1 2293.1 L1010.4 2290.4 L1010.7 2293.2 L1011.0 2299.6 L1011.3 2292.2 L1011.6 2296.1 L1011.9 2294.7 L1012.3 2301.3 L1012.6 2298.4 L1012.9 2296.4 L1013.2 2298.4 L1013.5 2297.4 L1013.8 2296.3 L1014.0 2296.2 L1014.3 2302.0 L1014.6 2301.9 L1014.9 2306.0 L1015.1 2304.6 L1015.4 2308.1 L1015.7 2312.8 L1016.0 2306.6 L1016.2 2307.5 L1016.5 2313.8 L1016.8 2318.1 L1017.1 2311.2 L1017.3 2310.2 L1017.6 2314.5 L1017.9 2315.2 L1018.2 2318.9 L1018.4 2315.6 L1018.7 2318.5 L1019.0 2319.3 L1019.2 2317.2 L1019.4 2318.2 L1019.7 2324.1 L1019.9 2325.3 L1020.1 2323.0 L1020.3 2329.7 L1020.5 2329.2 L1020.7 2329.0 L1020.9 2330.3 L1021.1 2330.7 L1021.3 2332.6 L1021.5 2333.9 L1021.7 2332.9 L1022.0 2328.7 L1022.2 2334.3 L1022.4 2333.7 L1022.6 2333.8 L1022.8 2339.1 L1023.0 2334.3 L1023.2 2341.6 L1023.4 2339.0 L1023.6 2338.6 L1023.7 2340.4 L1023.8 2349.3 L1023.9 2348.1 L1023.9 2344.9 L1024.0 2349.1 L1024.1 2351.9 L1024.2 2346.4 L1024.3 2348.8 L1024.4 2352.8 L1024.4 2352.5 L1024.5 2351.6 L1024.6 2357.5 L1024.7 2355.8 L1024.8 2357.4 L1024.9 2362.4 L1024.9 2358.7 L1025.0 2365.0" fill="none" stroke="#000" stroke-width="1.4" stroke-linejoin="bevel" stroke-linecap="butt" stroke-dasharray="5 3"/>
<path d="M662.2 2298.5 L667.0 2161.0 L663.5 2188.0 L667.4 2265.3 L670.2 2202.5 L673.7 2245.6 L677.1 2197.9 L680.0 2257.6 L682.6 2189.6 L685.7 2266.3 L689.2 2182.5 L692.7 2257.3 L695.5 2188.3 L698.7 2258.8 L701.6 2192.8 L704.9 2240.3 L707.9 2192.6 L711.0 2260.1 L714.3 2194.9 L718.4 2245.7 L721.8 2210.9 L724.4 2211.9 L727.0 2234.3 L730.5 2209.5 L733.4 2251.2 L737.2 2208.2 L741.1 2247.9 L743.9 2200.0 L747.9 2246.0 L751.9 2205.6 L755.0 2240.4 L758.1 2218.3 L761.8 2240.4 L765.8 2209.9 L768.3 2237.7 L771.0 2214.6 L774.9 2244.3 L778.5 2207.7 L781.5 2236.7 L785.3 2222.1 L789.1 2230.1 L792.9 2220.6 L794.5 2229.6 L795.8 2221.8 L797.3 2231.3 L799.1 2219.7 L800.5 2232.7 L802.3 2225.3 L803.5 2224.2 L805.5 2229.8 L806.8 2223.9 L808.4 2230.8 L810.0 2227.1 L811.7 2232.8 L813.5 2224.9 L814.7 2229.8 L816.0 2224.7 L817.5 2232.5 L819.0 2224.0 L820.4 2231.3 L821.9 2226.6 L823.1 2234.2 L824.5 2232.7 L826.5 2224.4 L828.2 2231.8 L829.4 2224.0 L831.0 2234.7 L832.6 2223.4 L834.0 2231.1 L835.7 2232.9 L837.3 2222.7 L839.0 2232.3 L840.4 2223.5 L841.7 2234.5 L843.4 2226.2 L845.1 2232.2 L846.4 2226.7 L848.0 2234.6 L849.6 2224.0 L850.9 2229.6 L852.3 2226.3 L854.2 2232.2 L855.9 2224.6 L857.2 2232.2 L858.4 2226.0 L860.1 2235.6 L861.7 2223.4 L863.7 2232.9 L865.0 2231.7 L866.6 2228.5 L868.6 2231.5 L870.1 2224.8 L871.6 2231.4 L872.9 2224.4 L874.7 2232.9 L876.0 2222.5 L877.9 2225.7 L879.7 2231.9 L881.4 2224.5 L882.9 2231.4 L884.5 2226.2 L886.0 2233.1 L887.5 2221.7 L889.2 2232.9 L890.8 2225.1 L892.8 2230.6 L894.6 2230.8 L896.3 2224.5 L898.3 2230.6 L899.8 2226.0 L901.1 2232.5 L903.1 2224.1 L904.6 2233.2 L905.8 2223.4 L907.1 2230.9 L908.9 2226.4 L910.8 2231.8 L912.1 2225.0 L913.8 2233.0 L915.4 2223.2 L916.9 2232.6 L918.1 2224.2 L920.0 2233.5 L921.6 2224.0 L923.5 2232.0 L925.0 2224.1 L926.7 2231.7 L928.3 2224.5 L929.7 2232.2 L931.5 2223.2 L932.8 2232.4 L934.4 2224.9 L935.9 2232.9 L937.7 2222.0 L939.0 2235.2 L940.6 2230.8 L942.3 2225.1 L944.0 2230.4 L945.4 2222.2 L946.7 2233.0 L948.6 2222.5 L949.8 2232.3 L951.1 2227.7 L952.7 2229.9 L954.1 2224.1 L955.7 2230.6 L957.1 2225.8 L958.5 2233.8 L959.9 2225.0 L961.3 2231.4 L963.1 2223.9 L964.6 2231.5 L966.1 2224.6 L967.4 2232.9 L969.1 2226.7 L970.9 2231.9 L972.4 2227.8 L974.3 2231.5 L976.0 2225.2 L977.8 2228.9 L979.1 2223.5 L981.0 2233.1 L982.8 2225.5 L984.6 2233.9 L986.3 2223.7 L988.1 2222.3 L990.0 2229.8 L991.6 2224.3 L993.4 2223.8 L995.1 2224.5 L996.3 2233.2 L997.8 2222.9 L999.7 2235.0 L1001.2 2222.5 L1002.5 2231.9 L1003.8 2225.2 L1005.2 2231.5 L1006.6 2224.2 L1008.3 2232.0 L1010.2 2223.5 L1011.9 2232.8 L1013.3 2226.3 L1015.1 2229.4 L1016.7 2225.8 L1018.6 2233.6 L1019.8 2225.9 L1021.6 2234.9 L1022.9 2225.5 L1024.1 2234.6" fill="none" stroke="#000" stroke-width="1.7" stroke-linejoin="miter" stroke-linecap="butt"/>
<path d="M1263.8 2278.4 L1265.5 2154.0 L1268.5 2254.6 L1270.6 2189.8 L1273.8 2282.9 L1276.7 2186.1 L1279.4 2283.0 L1282.6 2184.0 L1285.7 2257.1 L1289.1 2207.1 L1291.7 2254.5 L1294.6 2196.6 L1297.6 2234.9 L1300.5 2200.6 L1303.3 2232.9 L1305.9 2199.9 L1308.4 2243.5 L1311.7 2201.6 L1314.8 2246.9 L1317.7 2206.3 L1320.2 2247.8 L1322.4 2255.2 L1325.2 2199.2 L1328.5 2244.4 L1331.0 2224.2 L1332.7 2230.0 L1334.3 2222.8 L1336.1 2231.5 L1337.7 2227.3 L1339.0 2231.9 L1340.5 2224.9 L1342.4 2231.8 L1344.1 2224.1 L1345.6 2233.3 L1347.2 2222.7 L1349.3 2230.7 L1351.2 2223.3 L1352.6 2233.0 L1354.2 2225.4 L1356.2 2231.7 L1358.3 2223.4 L1359.6 2232.4 L1361.1 2225.2 L1362.6 2230.1 L1364.7 2224.6 L1366.5 2233.9 L1368.6 2226.2 L1370.5 2230.5 L1372.5 2230.4 L1374.0 2223.7 L1375.4 2231.4 L1377.0 2223.3 L1379.1 2232.1 L1381.0 2223.1 L1382.4 2232.4 L1384.2 2224.8 L1385.7 2230.7 L1387.7 2233.8 L1389.0 2226.8 L1390.4 2231.7 L1392.4 2232.6 L1394.0 2224.4 L1395.4 2231.0 L1396.7 2225.8 L1398.4 2231.9 L1400.0 2231.3 L1401.6 2221.7 L1403.6 2232.1 L1405.3 2222.6 L1407.2 2230.9 L1409.1 2225.4 L1410.9 2229.4 L1412.8 2228.6 L1414.9 2222.6 L1416.2 2230.6 L1417.6 2223.3 L1419.5 2230.3 L1421.0 2224.8 L1422.6 2229.4 L1424.6 2225.5 L1426.6 2232.1 L1428.4 2222.5 L1429.9 2232.1 L1431.6 2224.3 L1433.5 2225.5 L1434.8 2231.9 L1436.5 2231.7 L1438.5 2224.6 L1440.6 2234.6 L1442.4 2225.7 L1444.2 2234.2 L1446.0 2225.4 L1447.5 2232.6 L1448.9 2225.2 L1450.7 2234.2 L1452.6 2224.4 L1454.7 2232.0 L1456.0 2225.8 L1457.4 2232.4 L1459.4 2225.9 L1460.9 2229.2 L1462.6 2225.4 L1464.7 2230.4 L1466.6 2226.2 L1468.3 2229.6 L1470.3 2225.9 L1471.8 2232.9 L1473.3 2227.6 L1474.8 2231.0 L1476.4 2224.4 L1478.5 2229.9 L1480.2 2225.2 L1482.0 2230.9 L1483.7 2220.6 L1485.2 2229.5 L1487.2 2226.1 L1488.9 2233.0 L1490.5 2226.7 L1492.3 2224.3 L1493.7 2232.0 L1495.2 2226.5 L1497.1 2234.2 L1499.0 2223.8 L1501.0 2230.4 L1502.7 2225.3 L1504.5 2230.1 L1506.1 2223.2 L1507.4 2234.4 L1508.8 2225.6 L1510.8 2233.5 L1512.1 2226.0 L1513.4 2225.1 L1515.3 2233.8 L1516.6 2223.2 L1519.9 2237.6 L1522.2 2218.4 L1525.4 2236.9 L1528.5 2219.6 L1530.8 2238.0 L1533.6 2213.3 L1535.8 2237.7 L1538.8 2223.4 L1541.3 2242.8 L1543.4 2217.4 L1546.2 2242.7 L1548.5 2216.7 L1550.6 2240.3 L1553.9 2219.3 L1556.4 2245.3 L1559.7 2205.9 L1561.7 2236.9 L1563.8 2216.4 L1566.6 2248.6 L1569.3 2243.3 L1572.3 2208.5 L1575.1 2250.3 L1578.1 2205.3 L1581.1 2205.3 L1583.4 2248.7 L1585.9 2214.0 L1589.0 2252.7 L1591.9 2211.6 L1594.7 2256.8 L1597.0 2217.3 L1599.3 2269.5 L1601.5 2248.9 L1603.8 2203.7 L1606.8 2263.2 L1609.7 2198.2 L1612.3 2276.9 L1615.4 2185.3 L1618.5 2259.3 L1620.0 2143.7 L1621.4 2314.0" fill="none" stroke="#000" stroke-width="1.7" stroke-linejoin="miter" stroke-linecap="butt"/>
<clipPath id="cb"><rect x="640" y="1600" width="1100" height="858.4"/></clipPath>
<g clip-path="url(#cb)">
<path d="M660.7 2475.7 L660.9 2451.0 L661.1 2554.4 L661.3 2449.7 L661.5 2454.1 L661.6 2475.7 L661.8 2435.7 L662.0 2439.4 L662.2 2450.1 L662.4 2440.9 L662.6 2426.4 L662.8 2440.2 L663.0 2436.6 L663.1 2449.9 L663.3 2414.4 L663.5 2427.7 L663.7 2481.7 L664.3 2463.2 L665.0 2412.6 L665.6 2442.8 L666.2 2418.3 L666.8 2419.1 L667.4 2417.9 L668.0 2423.1 L668.6 2441.3 L669.2 2436.2 L669.9 2427.5 L670.6 2419.6 L671.3 2423.3 L671.9 2420.8 L672.6 2431.1 L673.3 2412.0 L674.0 2418.7 L674.6 2416.5 L675.3 2416.0 L675.9 2418.4 L676.4 2416.6 L677.0 2428.8 L677.5 2410.9 L678.0 2428.8 L678.6 2406.0 L679.1 2402.9 L679.7 2408.3 L680.2 2410.0 L680.7 2407.8 L681.3 2417.8 L681.8 2414.8 L682.4 2406.6 L682.9 2396.5 L683.4 2397.8 L684.0 2412.6 L684.5 2398.8 L685.1 2360.0 L685.6 2387.1 L686.1 2387.1 L686.7 2403.4 L687.2 2389.5 L687.8 2411.9 L688.4 2394.8 L689.1 2388.4 L689.7 2381.8 L690.3 2394.2 L691.0 2381.5 L691.6 2374.9 L692.2 2395.2 L692.9 2380.5 L693.5 2390.1 L694.1 2377.4 L694.7 2351.2 L695.4 2382.8 L696.0 2358.1 L696.6 2387.0 L697.3 2388.2 L697.9 2367.6 L698.5 2360.2 L699.2 2357.1 L699.9 2375.3 L700.7 2365.2 L701.5 2361.0 L702.3 2362.9 L703.1 2380.7 L703.9 2365.6 L704.7 2367.7 L705.5 2366.8 L706.3 2367.6 L707.1 2366.8 L707.9 2352.2 L708.7 2355.0 L709.5 2349.9 L710.3 2349.3 L711.1 2361.9 L711.8 2348.8 L712.6 2350.9 L713.3 2345.4 L714.1 2345.1 L714.8 2353.8 L715.6 2339.1 L716.3 2342.8 L717.1 2348.5 L717.8 2347.4 L718.6 2348.3 L719.4 2343.0 L720.1 2329.1 L720.9 2343.9 L721.6 2342.0 L722.4 2344.3 L723.1 2331.1 L723.9 2351.8 L724.7 2326.7 L725.5 2338.1 L726.3 2332.8 L727.1 2328.4 L727.9 2335.5 L728.7 2327.7 L729.5 2314.1 L730.3 2320.2 L731.1 2333.5 L731.9 2338.7 L732.7 2301.3 L733.5 2323.1 L734.3 2330.7 L735.1 2324.8 L736.2 2318.3 L737.3 2311.6 L738.3 2308.9 L739.4 2314.0 L740.5 2315.5 L741.5 2304.3 L742.6 2306.7 L743.6 2316.9 L744.7 2312.3 L745.8 2309.7 L746.8 2310.8 L747.8 2301.0 L748.9 2316.3 L749.9 2319.2 L750.9 2337.8 L751.9 2312.6 L752.9 2312.0 L753.9 2314.8 L755.0 2329.5 L756.0 2313.1 L757.0 2311.0 L758.0 2300.9 L759.1 2295.5 L760.3 2307.3 L761.5 2302.0 L762.7 2301.7 L763.9 2297.2 L765.2 2294.8 L766.4 2307.2 L767.6 2302.3 L768.8 2294.6 L770.0 2300.9 L771.3 2300.3 L772.5 2301.0 L773.8 2308.6 L775.1 2298.0 L776.4 2292.2 L777.7 2297.9 L778.9 2294.7 L780.2 2299.8 L781.5 2298.0 L782.8 2298.4 L784.1 2294.1 L785.3 2298.1 L786.6 2293.8 L787.9 2301.5 L789.1 2294.2 L790.4 2290.4 L791.7 2297.0 L792.9 2286.9 L794.2 2300.4 L795.5 2295.9 L796.8 2295.8 L798.0 2293.9 L799.3 2293.0 L800.6 2283.2 L801.8 2297.7 L803.1 2289.1 L804.4 2296.0 L805.6 2289.3 L806.9 2290.9 L808.1 2290.2 L809.4 2286.6 L810.6 2288.5 L811.8 2291.8 L813.1 2287.9 L814.3 2276.2 L815.6 2286.5 L816.8 2289.3 L818.0 2292.4 L819.3 2290.8 L820.5 2288.3 L821.8 2283.0 L823.0 2289.9 L824.3 2286.2 L825.5 2284.8 L826.8 2288.8 L828.0 2287.3 L829.2 2286.5 L830.5 2279.9 L831.7 2281.6 L833.0 2277.1 L834.2 2283.8 L835.5 2282.8 L836.7 2285.8 L838.0 2282.8 L839.2 2280.3 L840.5 2289.0 L841.7 2277.1 L842.9 2275.6 L844.2 2277.9 L845.4 2281.6 L846.7 2278.1 L847.9 2277.4 L849.1 2274.4 L850.3 2283.3 L851.5 2275.3 L852.7 2273.2 L853.9 2276.1 L855.1 2273.2 L856.4 2274.7 L857.6 2287.4 L858.8 2273.0 L860.0 2273.9 L861.2 2272.3 L862.4 2272.5 L863.6 2275.5 L864.8 2274.0 L866.0 2270.5 L867.2 2268.0 L868.4 2270.3 L869.6 2273.1 L870.8 2269.7 L872.0 2268.9 L873.3 2262.6 L874.5 2271.7 L875.7 2262.7 L876.9 2263.0 L878.1 2265.7 L879.4 2266.8 L880.7 2266.6 L881.9 2263.5 L883.2 2263.0 L884.4 2263.4 L885.7 2259.0 L887.0 2264.0 L888.2 2262.2 L889.5 2267.9 L890.7 2263.4 L892.0 2266.8 L893.3 2265.6 L894.5 2265.9 L895.8 2266.6 L897.1 2268.3 L898.3 2261.4 L899.6 2266.2 L900.8 2258.3 L902.1 2260.9 L903.4 2263.6 L904.6 2258.0 L905.9 2262.4 L907.2 2257.3 L908.5 2258.2 L909.8 2261.9 L911.1 2262.5 L912.3 2264.1 L913.6 2260.0 L914.9 2261.3 L916.2 2262.4 L917.5 2262.0 L918.8 2256.3 L920.1 2258.8 L921.4 2265.3 L922.7 2256.7 L924.0 2262.8 L925.3 2259.5 L926.6 2264.1 L927.9 2258.5 L929.2 2261.2 L930.5 2254.6 L931.8 2261.0 L933.1 2264.7 L934.4 2256.5 L935.7 2265.1 L937.0 2259.1 L938.3 2261.2 L939.6 2252.6 L940.9 2264.8 L942.2 2258.6 L943.5 2259.7 L944.8 2257.4 L946.1 2253.3 L947.4 2265.0 L948.7 2259.8 L950.0 2264.2 L951.3 2260.8 L952.6 2262.0 L953.8 2259.0 L955.0 2261.5 L956.3 2280.9 L957.5 2261.5 L958.8 2260.7 L960.0 2257.2 L961.3 2261.5 L962.5 2262.2 L963.8 2252.3 L965.0 2246.0 L966.2 2263.2 L967.2 2259.3 L968.2 2255.5 L969.2 2258.8 L970.2 2256.8 L971.2 2255.1 L972.3 2251.1 L973.3 2257.4 L974.3 2250.2 L975.3 2246.7 L976.3 2246.8 L977.3 2247.3 L978.4 2245.8 L979.4 2245.5 L980.4 2246.3 L981.6 2234.7 L982.8 2242.1 L984.1 2247.0 L985.3 2245.4 L986.6 2241.2 L987.8 2241.0 L989.0 2246.1 L990.3 2241.5 L991.5 2237.6 L992.8 2247.1 L994.0 2240.0 L995.3 2242.8 L996.5 2240.7 L997.8 2241.3 L999.1 2238.5 L1000.4 2239.1 L1001.6 2245.7 L1002.9 2238.7 L1004.2 2243.3 L1005.5 2239.0 L1006.7 2242.2 L1008.0 2243.1 L1009.3 2238.5 L1010.5 2247.2 L1011.6 2243.9 L1012.7 2248.8 L1013.8 2243.0 L1014.9 2249.3 L1016.0 2254.3 L1017.1 2248.6 L1018.2 2246.7 L1019.3 2250.7 L1020.4 2250.4 L1021.5 2250.0" fill="none" stroke="#000" stroke-width="9.4" stroke-linejoin="round" stroke-linecap="butt"/>
<path d="M1286.6 2457.0 L1287.0 2457.8 L1287.3 2455.5 L1287.6 2452.1 L1287.9 2447.9 L1288.2 2453.1 L1288.5 2452.2 L1288.8 2445.9 L1289.1 2450.6 L1289.4 2445.5 L1289.7 2450.0 L1290.0 2444.9 L1290.3 2441.8 L1290.6 2443.6 L1290.9 2440.2 L1291.2 2438.9 L1291.5 2437.6 L1291.8 2435.9 L1292.1 2436.1 L1292.4 2435.2 L1292.7 2434.1 L1293.1 2434.5 L1293.4 2427.3 L1293.7 2427.7 L1294.0 2428.9 L1294.3 2423.8 L1294.6 2427.8 L1294.9 2424.9 L1295.2 2421.9 L1295.5 2422.0 L1295.8 2418.6 L1296.1 2415.7 L1296.4 2418.8 L1296.7 2417.7 L1297.0 2414.9 L1297.4 2413.4 L1297.8 2401.7 L1298.3 2409.4 L1298.7 2408.9 L1299.1 2409.0 L1299.5 2409.9 L1299.9 2405.1 L1300.3 2403.3 L1300.7 2405.4 L1301.1 2402.1 L1301.5 2398.5 L1302.0 2402.2 L1302.4 2397.0 L1302.8 2396.3 L1303.2 2394.2 L1303.6 2395.6 L1304.0 2395.8 L1304.4 2391.8 L1304.8 2392.0 L1305.2 2389.1 L1305.7 2393.2 L1306.1 2390.4 L1306.5 2385.2 L1306.9 2386.1 L1307.3 2385.6 L1307.7 2383.4 L1308.1 2379.9 L1308.5 2379.8 L1309.0 2380.3 L1309.4 2378.6 L1309.9 2374.9 L1310.4 2377.5 L1310.9 2372.2 L1311.4 2368.8 L1311.9 2372.0 L1312.3 2372.3 L1312.8 2370.1 L1313.3 2370.8 L1313.8 2370.2 L1314.3 2367.4 L1314.7 2363.2 L1315.2 2363.1 L1315.7 2359.3 L1316.2 2360.7 L1316.7 2359.4 L1317.2 2358.7 L1317.6 2359.3 L1318.1 2351.9 L1318.6 2356.2 L1319.1 2352.5 L1319.6 2353.9 L1320.1 2351.5 L1320.5 2348.0 L1321.0 2350.4 L1321.3 2346.1 L1321.7 2347.2 L1322.1 2343.9 L1322.4 2342.8 L1322.8 2342.7 L1323.2 2344.9 L1323.6 2341.3 L1323.9 2338.7 L1324.3 2340.7 L1324.7 2336.3 L1325.1 2334.5 L1325.4 2329.0 L1325.8 2332.8 L1326.2 2331.5 L1326.6 2328.7 L1326.9 2325.2 L1327.3 2327.3 L1327.7 2326.5 L1328.1 2323.1 L1328.4 2322.0 L1328.8 2320.5 L1329.2 2320.4 L1329.5 2322.7 L1330.3 2319.3 L1331.1 2314.9 L1331.9 2318.2 L1332.7 2315.1 L1333.5 2319.4 L1334.4 2313.4 L1335.2 2312.8 L1336.0 2312.3 L1336.8 2311.5 L1337.6 2310.0 L1338.4 2309.0 L1339.2 2307.4 L1340.0 2305.8 L1340.9 2305.1 L1341.6 2302.5 L1342.0 2302.5 L1342.5 2301.1 L1342.9 2300.3 L1343.4 2299.0 L1343.9 2298.4 L1344.3 2298.3 L1344.8 2295.7 L1345.2 2295.2 L1345.7 2294.3 L1346.1 2292.0 L1346.6 2291.1 L1347.0 2290.8 L1347.5 2285.7 L1348.0 2289.0 L1348.4 2285.6 L1348.9 2278.3 L1349.3 2285.1 L1349.8 2280.6 L1350.2 2283.3 L1350.9 2278.6 L1351.5 2279.0 L1352.1 2279.5 L1352.8 2275.6 L1353.4 2274.1 L1354.1 2274.6 L1354.7 2276.3 L1355.4 2274.7 L1356.0 2274.1 L1356.7 2271.1 L1357.3 2270.1 L1357.9 2270.1 L1358.6 2268.0 L1359.2 2264.3 L1359.9 2266.2 L1360.5 2262.6 L1361.2 2260.9 L1361.8 2261.6 L1362.5 2260.0 L1363.2 2260.8 L1363.9 2258.6 L1364.7 2256.1 L1365.4 2255.8 L1366.1 2253.7 L1366.8 2253.1 L1367.5 2255.0 L1368.4 2252.4 L1369.5 2250.4 L1370.7 2249.9 L1371.8 2248.8 L1373.0 2249.0 L1374.2 2245.9 L1375.3 2249.3 L1376.5 2247.1 L1377.7 2248.3 L1378.8 2248.2 L1380.0 2246.4 L1381.2 2243.5 L1382.4 2238.9 L1383.6 2246.0 L1384.9 2245.6 L1386.1 2240.9 L1387.3 2241.3 L1388.5 2244.7 L1389.7 2242.3 L1390.9 2245.6 L1392.2 2242.4 L1393.5 2243.4 L1394.8 2241.6 L1396.1 2241.1 L1397.3 2239.3 L1398.6 2237.1 L1399.9 2244.5 L1401.2 2246.5 L1402.5 2241.8 L1403.8 2244.9 L1405.0 2240.5 L1406.3 2246.5 L1407.6 2244.8 L1408.8 2247.4 L1410.1 2241.3 L1411.4 2247.5 L1412.6 2246.9 L1413.9 2246.1 L1415.1 2244.1 L1416.3 2246.9 L1417.5 2247.3 L1418.7 2246.3 L1419.8 2245.4 L1421.0 2246.6 L1422.1 2248.2 L1423.3 2251.9 L1424.5 2252.6 L1425.6 2254.1 L1426.8 2252.4 L1428.0 2249.3 L1429.1 2251.3 L1430.3 2251.1 L1431.4 2253.3 L1432.6 2257.0 L1433.8 2254.6 L1434.9 2254.8 L1436.1 2257.2 L1437.3 2258.1 L1438.4 2259.2 L1439.6 2256.1 L1440.7 2256.8 L1441.9 2258.2 L1443.1 2261.1 L1444.2 2260.6 L1445.4 2258.9 L1446.7 2264.5 L1448.0 2260.1 L1449.3 2261.1 L1450.6 2261.4 L1451.8 2260.2 L1453.1 2261.9 L1454.4 2262.3 L1455.7 2262.9 L1457.0 2263.2 L1458.3 2261.8 L1459.5 2261.3 L1460.8 2265.4 L1462.1 2262.4 L1463.4 2265.8 L1464.7 2264.8 L1465.9 2269.3 L1467.2 2264.3 L1468.5 2261.6 L1469.8 2264.4 L1471.0 2267.6 L1472.3 2269.1 L1473.6 2269.1 L1474.9 2267.3 L1476.1 2269.3 L1477.4 2264.7 L1478.6 2265.2 L1479.9 2264.1 L1481.1 2266.6 L1482.3 2267.6 L1483.6 2264.8 L1484.8 2265.1 L1486.0 2263.0 L1487.1 2263.5 L1488.0 2265.4 L1488.9 2269.0 L1489.9 2267.9 L1490.8 2268.9 L1491.7 2270.9 L1492.6 2271.0 L1493.5 2267.2 L1494.5 2274.9 L1495.4 2272.2 L1496.2 2273.5 L1497.0 2274.4 L1497.8 2276.7 L1498.6 2276.1 L1499.4 2278.3 L1500.3 2281.8 L1501.1 2278.1 L1501.9 2277.1 L1502.7 2284.0 L1503.5 2283.1 L1504.3 2284.9 L1505.1 2286.0 L1505.9 2285.0 L1506.8 2287.0 L1507.6 2284.4 L1508.4 2288.5 L1509.2 2289.9 L1510.0 2288.5 L1510.8 2290.4 L1511.6 2292.5 L1512.4 2294.3 L1513.3 2294.4 L1514.1 2298.4 L1514.9 2298.2 L1515.7 2299.3 L1516.5 2295.4 L1517.3 2299.0 L1518.1 2301.2 L1518.9 2301.0 L1519.7 2303.4 L1520.6 2302.6 L1521.4 2302.9 L1522.2 2305.8 L1523.0 2307.1 L1523.8 2306.0 L1524.6 2308.8 L1525.4 2312.6 L1526.2 2312.4 L1527.1 2314.3 L1527.9 2314.8 L1528.7 2314.4 L1529.5 2314.1 L1530.3 2321.7 L1531.1 2317.6 L1531.7 2320.8 L1532.3 2317.5 L1532.8 2316.0 L1533.4 2317.8 L1534.0 2322.0 L1534.6 2320.1 L1535.2 2328.1 L1535.7 2325.1 L1536.3 2326.0 L1536.9 2334.8 L1537.5 2328.7 L1538.1 2329.5 L1538.6 2342.5 L1539.2 2335.2 L1539.8 2335.1 L1540.8 2331.3 L1541.9 2341.3 L1543.0 2341.9 L1544.1 2327.5 L1545.1 2338.3 L1546.2 2340.4 L1547.3 2342.5 L1548.4 2334.7 L1549.0 2341.6 L1549.4 2351.0 L1549.7 2349.6 L1550.1 2340.8 L1550.4 2348.3 L1550.8 2344.5 L1551.2 2353.3 L1551.5 2336.3 L1551.9 2356.2 L1552.2 2354.4 L1552.6 2368.7 L1552.9 2349.8 L1553.3 2355.6 L1553.7 2352.6 L1554.0 2361.9 L1554.4 2361.8 L1554.7 2371.9 L1555.7 2366.9 L1556.6 2352.1 L1557.5 2366.5 L1558.4 2366.4 L1559.3 2372.4 L1560.3 2371.5 L1561.2 2364.1 L1562.1 2367.8 L1563.0 2376.9 L1563.9 2366.9 L1564.9 2373.2 L1565.8 2366.9 L1566.6 2381.0 L1567.2 2382.4 L1567.8 2376.9 L1568.4 2371.5 L1569.0 2375.6 L1569.6 2378.6 L1570.1 2378.8 L1570.7 2383.8 L1571.3 2373.6 L1571.9 2376.0 L1572.5 2379.2 L1573.0 2392.3 L1573.6 2379.8 L1574.2 2389.8 L1574.8 2395.9 L1575.4 2381.1 L1575.8 2378.9 L1576.3 2380.4 L1576.8 2398.0 L1577.2 2398.4 L1577.7 2395.3 L1578.1 2390.7 L1578.6 2399.6 L1579.0 2389.3 L1579.5 2410.1 L1580.0 2403.0 L1580.4 2403.9 L1580.9 2415.6 L1581.3 2398.7 L1581.8 2399.3 L1582.2 2412.1 L1582.7 2418.4 L1583.1 2404.1 L1583.6 2404.6 L1584.1 2412.4 L1584.8 2418.9 L1586.1 2408.5 L1587.4 2422.0 L1588.7 2431.4 L1590.0 2413.5 L1591.3 2410.0 L1592.6 2432.5 L1593.4 2403.9 L1593.6 2425.8 L1593.9 2426.2 L1594.1 2406.0 L1594.4 2425.8 L1594.6 2433.7 L1594.9 2419.1 L1595.1 2404.0 L1595.4 2418.3 L1595.7 2442.8 L1595.9 2418.6 L1596.2 2437.6 L1596.4 2419.1 L1596.7 2427.1 L1596.9 2426.1 L1597.2 2432.9 L1597.4 2439.5 L1597.7 2437.1 L1598.0 2430.2 L1598.2 2438.5 L1598.5 2438.9 L1598.7 2438.2 L1599.0 2438.0 L1599.4 2438.1 L1600.3 2447.6 L1601.2 2465.5 L1602.0 2447.7 L1602.9 2450.3 L1603.7 2441.0 L1604.6 2444.6 L1605.5 2464.5 L1606.3 2448.7 L1607.2 2457.1 L1608.1 2462.1 L1608.9 2449.2 L1609.8 2466.6 L1610.7 2464.0" fill="none" stroke="#000" stroke-width="8.6" stroke-linejoin="round" stroke-linecap="butt"/>
</g>
<line x1="659.6" y1="1651.4" x2="659.6" y2="2459.0" stroke="#000" stroke-width="3.2" stroke-linecap="butt"/>
<line x1="643.2" y1="2457.4" x2="1623.3" y2="2457.4" stroke="#000" stroke-width="3.2" stroke-linecap="butt"/>
<line x1="643.2" y1="1653.0" x2="659.6" y2="1653.0" stroke="#000" stroke-width="3.2" stroke-linecap="butt"/>
<text class="ls" transform="translate(630.6 1669.4) scale(0.75 1)" font-size="47.2" text-anchor="end" stroke="#000" stroke-width="1.9">0.06</text>
<line x1="643.2" y1="1753.5" x2="659.6" y2="1753.5" stroke="#000" stroke-width="3.2" stroke-linecap="butt"/>
<text class="ls" transform="translate(630.6 1769.9) scale(0.75 1)" font-size="47.2" text-anchor="end" stroke="#000" stroke-width="1.9">0.05</text>
<line x1="643.2" y1="1854.1" x2="659.6" y2="1854.1" stroke="#000" stroke-width="3.2" stroke-linecap="butt"/>
<text class="ls" transform="translate(630.6 1870.5) scale(0.75 1)" font-size="47.2" text-anchor="end" stroke="#000" stroke-width="1.9">0.04</text>
<line x1="643.2" y1="1954.6" x2="659.6" y2="1954.6" stroke="#000" stroke-width="3.2" stroke-linecap="butt"/>
<text class="ls" transform="translate(630.6 1971.0) scale(0.75 1)" font-size="47.2" text-anchor="end" stroke="#000" stroke-width="1.9">0.03</text>
<line x1="643.2" y1="2055.1" x2="659.6" y2="2055.1" stroke="#000" stroke-width="3.2" stroke-linecap="butt"/>
<text class="ls" transform="translate(630.6 2071.5) scale(0.75 1)" font-size="47.2" text-anchor="end" stroke="#000" stroke-width="1.9">0.02</text>
<line x1="643.2" y1="2155.7" x2="659.6" y2="2155.7" stroke="#000" stroke-width="3.2" stroke-linecap="butt"/>
<text class="ls" transform="translate(630.6 2172.1) scale(0.75 1)" font-size="47.2" text-anchor="end" stroke="#000" stroke-width="1.9">0.01</text>
<line x1="643.2" y1="2256.2" x2="659.6" y2="2256.2" stroke="#000" stroke-width="3.2" stroke-linecap="butt"/>
<text class="ls" transform="translate(630.6 2272.6) scale(0.75 1)" font-size="47.2" text-anchor="end" stroke="#000" stroke-width="1.9">0.00</text>
<line x1="643.2" y1="2356.7" x2="659.6" y2="2356.7" stroke="#000" stroke-width="3.2" stroke-linecap="butt"/>
<text class="ls" transform="translate(630.6 2373.1) scale(0.75 1)" font-size="47.2" text-anchor="end" stroke="#000" stroke-width="1.9">-0.01</text>
<line x1="643.2" y1="2457.4" x2="659.6" y2="2457.4" stroke="#000" stroke-width="3.2" stroke-linecap="butt"/>
<text class="ls" transform="translate(630.6 2473.8) scale(0.75 1)" font-size="47.2" text-anchor="end" stroke="#000" stroke-width="1.9">-0.02</text>
<line x1="659.6" y1="2457.4" x2="659.6" y2="2474.5" stroke="#000" stroke-width="3.2" stroke-linecap="butt"/>
<text class="ls" transform="translate(660.5 2517.5) scale(0.75 1)" font-size="47.2" text-anchor="middle" stroke="#000" stroke-width="1.9">1500</text>
<line x1="766.5" y1="2457.4" x2="766.5" y2="2474.5" stroke="#000" stroke-width="3.2" stroke-linecap="butt"/>
<text class="ls" transform="translate(767.4 2517.5) scale(0.75 1)" font-size="47.2" text-anchor="middle" stroke="#000" stroke-width="1.9">1600</text>
<line x1="873.4" y1="2457.4" x2="873.4" y2="2474.5" stroke="#000" stroke-width="3.2" stroke-linecap="butt"/>
<text class="ls" transform="translate(874.3 2517.5) scale(0.75 1)" font-size="47.2" text-anchor="middle" stroke="#000" stroke-width="1.9">1700</text>
<line x1="980.3" y1="2457.4" x2="980.3" y2="2474.5" stroke="#000" stroke-width="3.2" stroke-linecap="butt"/>
<text class="ls" transform="translate(981.2 2517.5) scale(0.75 1)" font-size="47.2" text-anchor="middle" stroke="#000" stroke-width="1.9">1800</text>
<line x1="1087.2" y1="2457.4" x2="1087.2" y2="2474.5" stroke="#000" stroke-width="3.2" stroke-linecap="butt"/>
<text class="ls" transform="translate(1088.1 2517.5) scale(0.75 1)" font-size="47.2" text-anchor="middle" stroke="#000" stroke-width="1.9">1900</text>
<line x1="1194.1" y1="2457.4" x2="1194.1" y2="2474.5" stroke="#000" stroke-width="3.2" stroke-linecap="butt"/>
<text class="ls" transform="translate(1195.0 2517.5) scale(0.75 1)" font-size="47.2" text-anchor="middle" stroke="#000" stroke-width="1.9">2000</text>
<line x1="1301.0" y1="2457.4" x2="1301.0" y2="2474.5" stroke="#000" stroke-width="3.2" stroke-linecap="butt"/>
<text class="ls" transform="translate(1301.9 2517.5) scale(0.75 1)" font-size="47.2" text-anchor="middle" stroke="#000" stroke-width="1.9">2100</text>
<line x1="1407.9" y1="2457.4" x2="1407.9" y2="2474.5" stroke="#000" stroke-width="3.2" stroke-linecap="butt"/>
<text class="ls" transform="translate(1408.8 2517.5) scale(0.75 1)" font-size="47.2" text-anchor="middle" stroke="#000" stroke-width="1.9">2200</text>
<line x1="1514.8" y1="2457.4" x2="1514.8" y2="2474.5" stroke="#000" stroke-width="3.2" stroke-linecap="butt"/>
<text class="ls" transform="translate(1515.7 2517.5) scale(0.75 1)" font-size="47.2" text-anchor="middle" stroke="#000" stroke-width="1.9">2300</text>
<line x1="1621.7" y1="2457.4" x2="1621.7" y2="2474.5" stroke="#000" stroke-width="3.2" stroke-linecap="butt"/>
<text class="ls" transform="translate(1622.6 2517.5) scale(0.75 1)" font-size="47.2" text-anchor="middle" stroke="#000" stroke-width="1.9">2400</text>
<text class="ls" transform="translate(995.8 2582.2) scale(0.824 1)" font-size="43.5" text-anchor="start" stroke="#000" stroke-width="1.9">Wavelength (nm)</text>
<text class="ls" transform="translate(495.7 2239.2) rotate(-90) scale(0.869 1)" font-size="42.0" text-anchor="start" stroke="#000" stroke-width="1.9">Absorption coefficient</text>
<text class="ls" transform="translate(768.8 1738.4) scale(0.824 1)" font-size="43.4" text-anchor="start" stroke="#000" stroke-width="1.9">SWIR data</text>
<text class="ls" transform="translate(708.3 1914.1) scale(0.809 1)" font-size="44.4" text-anchor="start" stroke="#000" stroke-width="1.9">Overtone bands</text>
<text class="ls" transform="translate(1389.9 1850.4) scale(0.802 1)" font-size="44.9" text-anchor="start" stroke="#000" stroke-width="1.9">Combinational bands</text>
<text class="ls" transform="translate(1327.0 1686.7) scale(0.75 1)" font-size="47.2" text-anchor="middle" stroke="#000" stroke-width="1.9">2120</text>
<text class="ls" transform="translate(745.1 2054.4) scale(0.75 1)" font-size="47.2" text-anchor="middle" stroke="#000" stroke-width="1.9">1587</text>
<text class="ls" transform="translate(905.5 2133.9) scale(0.75 1)" font-size="47.2" text-anchor="middle" stroke="#000" stroke-width="1.9">1750</text>
<text class="ls" transform="translate(1485.1 2086.8) scale(0.75 1)" font-size="47.2" text-anchor="middle" stroke="#000" stroke-width="1.9">2270</text>
<text class="ls" transform="translate(1567.7 2157.9) scale(0.75 1)" font-size="47.2" text-anchor="middle" stroke="#000" stroke-width="1.9">2320</text>
<rect x="1380.7" y="1627.7" width="421.5" height="142.2" fill="#fff" stroke="#000" stroke-width="3.4"/>
<path d="M1397.7 1657.6 H1490.1" fill="none" stroke="#000" stroke-width="1.3" stroke-linejoin="round" stroke-linecap="butt"/>
<path d="M1397.7 1696.7 H1490.1" fill="none" stroke="#444" stroke-width="1.2" stroke-linejoin="round" stroke-linecap="butt" stroke-dasharray="5 2"/>
<path d="M1397.7 1736.8 H1490.1" fill="none" stroke="#000" stroke-width="6.5" stroke-linejoin="round" stroke-linecap="round"/>
<text class="ls" transform="translate(1508.1 1668.2) scale(0.835 1)" font-size="35.3" text-anchor="start" stroke="#000" stroke-width="1.9">Hb (1mg/ml)</text>
<text class="ls" transform="translate(1508.1 1707.3) scale(0.835 1)" font-size="35.3" text-anchor="start" stroke="#000" stroke-width="1.9">Glucose (125mg/ml)</text>
<text class="ls" transform="translate(1508.1 1747.5) scale(0.835 1)" font-size="35.3" text-anchor="start" stroke="#000" stroke-width="1.9">HbA1c (&gt;1 mg/ml)</text>
</g>
</svg>
</body></html>
